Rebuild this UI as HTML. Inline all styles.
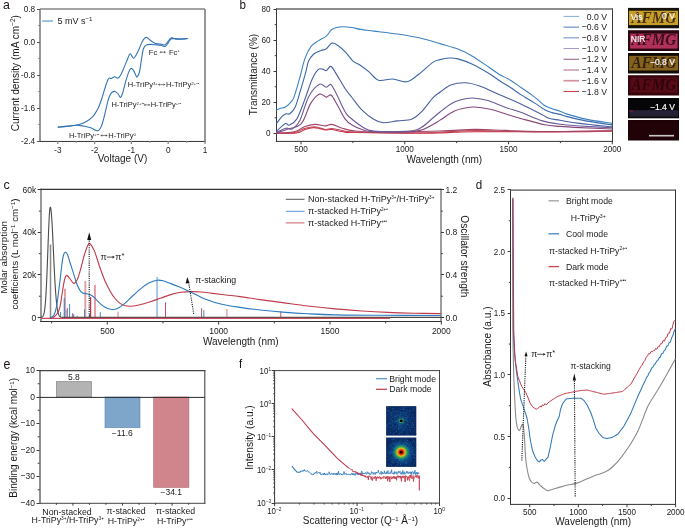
<!DOCTYPE html><html><head><meta charset="utf-8"><style>html,body{margin:0;padding:0;background:#fff;}svg{display:block;will-change:transform;}text{font-family:"Liberation Sans",sans-serif;}</style></head><body>
<svg width="685" height="528" viewBox="0 0 685 528">
<rect width="685" height="528" fill="#fff"/>
<text transform="translate(2.9,9.4) scale(1,1.1)" font-size="12.4" text-anchor="start" fill="#1e1414" >a</text>
<text transform="translate(239.4,9.4) scale(1,1.1)" font-size="11.6" text-anchor="start" fill="#1e1414" >b</text>
<text transform="translate(3.6,189.2) scale(1,1.05)" font-size="12.6" text-anchor="start" fill="#1e1414" >c</text>
<text transform="translate(475.7,188.8) scale(1,1.08)" font-size="11.6" text-anchor="start" fill="#1e1414" >d</text>
<text transform="translate(3.5,368.5) scale(1,1.12)" font-size="12.4" text-anchor="start" fill="#1e1414" >e</text>
<text transform="translate(239.1,367.9) scale(1,1.1)" font-size="11.4" text-anchor="start" fill="#1e1414" >f</text>
<g>
<line x1="40" y1="9" x2="205" y2="9" stroke="#858585" stroke-width="1.6" />
<line x1="40" y1="9" x2="40" y2="141" stroke="#858585" stroke-width="1.7" />
<line x1="205" y1="9" x2="205" y2="141" stroke="#858585" stroke-width="1.7" />
<line x1="39.2" y1="141.45" x2="205.8" y2="141.45" stroke="#333" stroke-width="1.0" />
<line x1="57.8" y1="141" x2="57.8" y2="144" stroke="#858585" stroke-width="1.3" />
<text transform="translate(57.8,152.5) scale(0.97,1.1)" font-size="8.5" text-anchor="middle" fill="#1a1a1a" >-3</text>
<line x1="94.6" y1="141" x2="94.6" y2="144" stroke="#858585" stroke-width="1.3" />
<text transform="translate(94.6,152.5) scale(0.97,1.1)" font-size="8.5" text-anchor="middle" fill="#1a1a1a" >-2</text>
<line x1="131.4" y1="141" x2="131.4" y2="144" stroke="#858585" stroke-width="1.3" />
<text transform="translate(131.4,152.5) scale(0.97,1.1)" font-size="8.5" text-anchor="middle" fill="#1a1a1a" >-1</text>
<line x1="168.2" y1="141" x2="168.2" y2="144" stroke="#858585" stroke-width="1.3" />
<text transform="translate(168.2,152.5) scale(0.97,1.1)" font-size="8.5" text-anchor="middle" fill="#1a1a1a" >0</text>
<line x1="205" y1="141" x2="205" y2="144" stroke="#858585" stroke-width="1.3" />
<text transform="translate(205,152.5) scale(0.97,1.1)" font-size="8.5" text-anchor="middle" fill="#1a1a1a" >1</text>
<line x1="76.2" y1="141" x2="76.2" y2="142.8" stroke="#858585" stroke-width="1.1" />
<line x1="113" y1="141" x2="113" y2="142.8" stroke="#858585" stroke-width="1.1" />
<line x1="149.8" y1="141" x2="149.8" y2="142.8" stroke="#858585" stroke-width="1.1" />
<line x1="186.6" y1="141" x2="186.6" y2="142.8" stroke="#858585" stroke-width="1.1" />
<line x1="37" y1="9.5" x2="40" y2="9.5" stroke="#555" stroke-width="1.0" />
<text transform="translate(35.2,11.9) scale(0.97,1.1)" font-size="8.5" text-anchor="end" fill="#1a1a1a" >0.8</text>
<line x1="37" y1="42.5" x2="40" y2="42.5" stroke="#555" stroke-width="1.0" />
<text transform="translate(35.2,44.9) scale(0.97,1.1)" font-size="8.5" text-anchor="end" fill="#1a1a1a" >0.0</text>
<line x1="37" y1="75.5" x2="40" y2="75.5" stroke="#555" stroke-width="1.0" />
<text transform="translate(35.2,77.9) scale(0.97,1.1)" font-size="8.5" text-anchor="end" fill="#1a1a1a" >-0.8</text>
<line x1="37" y1="108.5" x2="40" y2="108.5" stroke="#555" stroke-width="1.0" />
<text transform="translate(35.2,110.9) scale(0.97,1.1)" font-size="8.5" text-anchor="end" fill="#1a1a1a" >-1.6</text>
<line x1="37" y1="141.5" x2="40" y2="141.5" stroke="#555" stroke-width="1.0" />
<text transform="translate(35.2,143.9) scale(0.97,1.1)" font-size="8.5" text-anchor="end" fill="#1a1a1a" >-2.4</text>
<line x1="38.2" y1="25.5" x2="40" y2="25.5" stroke="#858585" stroke-width="1.1" />
<line x1="38.2" y1="58.5" x2="40" y2="58.5" stroke="#858585" stroke-width="1.1" />
<line x1="38.2" y1="91.5" x2="40" y2="91.5" stroke="#858585" stroke-width="1.1" />
<line x1="38.2" y1="124.5" x2="40" y2="124.5" stroke="#858585" stroke-width="1.1" />
<text x="122.5" y="161.8" font-size="10" text-anchor="middle" fill="#1a1a1a" >Voltage (V)</text>
<text transform="translate(18.7,73.2) rotate(-90)" font-size="10.1" text-anchor="middle" fill="#1a1a1a">Current density (mA cm<tspan font-size="6.5" dy="-3.5">−2</tspan><tspan dy="3.5">)</tspan></text>
<path d="M58.3,127.1 C59.58,126.98 62.9,126.75 66,126.4 C69.1,126.05 73.63,125.75 76.9,125 C80.17,124.25 82.97,123.3 85.6,121.9 C88.23,120.5 90.65,118.78 92.7,116.6 C94.75,114.42 96.43,111.65 97.9,108.8 C99.37,105.95 100.32,102.97 101.5,99.5 C102.68,96.03 103.9,91.37 105,88 C106.1,84.63 107.33,80.97 108.1,79.3 C108.87,77.63 109.05,78.15 109.6,78 C110.15,77.85 110.55,78.6 111.4,78.4 C112.25,78.2 113.63,76.83 114.7,76.8 C115.77,76.77 116.82,78.45 117.8,78.2 C118.78,77.95 119.58,77.02 120.6,75.3 C121.62,73.58 122.77,70.53 123.9,67.9 C125.03,65.27 126.35,61.85 127.4,59.5 C128.45,57.15 129.13,54.02 130.2,53.8 C131.27,53.58 132.43,58.75 133.8,58.2 C135.17,57.65 137.03,53.2 138.4,50.5 C139.77,47.8 140.98,44.03 142,42 C143.02,39.97 143.7,39.05 144.5,38.3 C145.3,37.55 145.78,37.12 146.8,37.5 C147.82,37.88 149.28,39.65 150.6,40.6 C151.92,41.55 153.38,42.63 154.7,43.2 C156.02,43.77 157.3,43.82 158.5,44 C159.7,44.18 160.92,44.13 161.9,44.3 C162.88,44.47 163.63,45.12 164.4,45 C165.17,44.88 165.73,44.43 166.5,43.6 C167.27,42.77 168.17,40.98 169,40 C169.83,39.02 170.65,37.95 171.5,37.7 C172.35,37.45 172.47,38.28 174.1,38.5 C175.73,38.72 179.08,39 181.3,39 C183.52,39 186.38,38.58 187.4,38.5" fill="none" stroke="#3474b4" stroke-width="1.1" stroke-linejoin="round" stroke-linecap="round" />
<path d="M58.3,127.1 C59.58,126.98 62.9,126.72 66,126.4 C69.1,126.08 73.9,125.23 76.9,125.2 C79.9,125.17 81.82,125.8 84,126.2 C86.18,126.6 88.08,126.93 90,127.6 C91.92,128.27 94.18,129.67 95.5,130.2 C96.82,130.73 97.07,131.17 97.9,130.8 C98.73,130.43 99.73,129.3 100.5,128 C101.27,126.7 101.92,124.75 102.5,123 C103.08,121.25 103.37,120 104,117.5 C104.63,115 105.6,110.95 106.3,108 C107,105.05 107.53,102.07 108.2,99.8 C108.87,97.53 109.58,95.7 110.3,94.4 C111.02,93.1 111.7,92.48 112.5,92 C113.3,91.52 114.15,91.17 115.1,91.5 C116.05,91.83 117.32,93.02 118.2,94 C119.08,94.98 119.68,97.48 120.4,97.4 C121.12,97.32 121.73,95.73 122.5,93.5 C123.27,91.27 124.03,87.4 125,84 C125.97,80.6 127.32,75.68 128.3,73.1 C129.28,70.52 130.03,68.97 130.9,68.5 C131.77,68.03 132.73,69.3 133.5,70.3 C134.27,71.3 134.92,73.38 135.5,74.5 C136.08,75.62 136.38,77.25 137,77 C137.62,76.75 138.62,74.83 139.2,73 C139.78,71.17 140.1,68.42 140.5,66 C140.9,63.58 141.1,61.42 141.6,58.5 C142.1,55.58 142.67,50.75 143.5,48.5 C144.33,46.25 145.42,45.68 146.6,45 C147.78,44.32 149.03,44.43 150.6,44.4 C152.17,44.37 154.33,44.65 156,44.8 C157.67,44.95 159.35,45.07 160.6,45.3 C161.85,45.53 162.68,46.03 163.5,46.2 C164.32,46.37 164.75,46.78 165.5,46.3 C166.25,45.82 167.12,44.48 168,43.3 C168.88,42.12 169.97,39.98 170.8,39.2 C171.63,38.42 172.13,38.62 173,38.6 C173.87,38.58 174.62,39.02 176,39.1 C177.38,39.18 179.4,39.2 181.3,39.1 C183.2,39 186.38,38.6 187.4,38.5" fill="none" stroke="#3474b4" stroke-width="1.1" stroke-linejoin="round" stroke-linecap="round" />
<line x1="42" y1="21" x2="53" y2="21" stroke="#7fb0da" stroke-width="1.5" />
<text x="57.4" y="24.2" font-size="9" text-anchor="start" fill="#1a1a1a" >5 mV s<tspan font-size="6.2" dy="-3.6">−1</tspan></text>
<text x="148.8" y="54.7" font-size="7.5" text-anchor="start" fill="#222" >Fc</text>
<line x1="161" y1="52.2" x2="164.3" y2="52.2" stroke="#555" stroke-width="0.7"/>
<path d="M166,52.2 L164,51.05 L164,53.35 Z" fill="#555"/>
<path d="M159.3,52.2 L161.3,51.05 L161.3,53.35 Z" fill="#555"/>
<text x="169" y="54.7" font-size="7.5" text-anchor="start" fill="#222" >Fc<tspan font-size="4.3" dy="-2.4">+</tspan></text>
<text x="127.8" y="87.1" font-size="7.5" text-anchor="start" fill="#222" >H-TriPy<tspan font-size="4.3" dy="-2.4">3+</tspan></text>
<line x1="159.6" y1="84.6" x2="163.8" y2="84.6" stroke="#555" stroke-width="0.7"/>
<path d="M165.5,84.6 L163.5,83.45 L163.5,85.75 Z" fill="#555"/>
<path d="M157.9,84.6 L159.9,83.45 L159.9,85.75 Z" fill="#555"/>
<text x="166.1" y="87.1" font-size="7.5" text-anchor="start" fill="#222" >H-TriPy<tspan font-size="4.3" dy="-2.4">2+••</tspan></text>
<text x="111.4" y="107.4" font-size="7.5" text-anchor="start" fill="#222" >H-TriPy<tspan font-size="4.3" dy="-2.4">2+••</tspan></text>
<line x1="145.1" y1="104.9" x2="148.8" y2="104.9" stroke="#555" stroke-width="0.7"/>
<path d="M150.5,104.9 L148.5,103.75 L148.5,106.05 Z" fill="#555"/>
<path d="M143.4,104.9 L145.4,103.75 L145.4,106.05 Z" fill="#555"/>
<text x="150.7" y="107.4" font-size="7.5" text-anchor="start" fill="#222" >H-TriPy<tspan font-size="4.3" dy="-2.4">+••</tspan></text>
<text x="68.9" y="138" font-size="7.5" text-anchor="start" fill="#222" >H-TriPy<tspan font-size="4.3" dy="-2.4">+••</tspan></text>
<line x1="102.1" y1="135.5" x2="106" y2="135.5" stroke="#555" stroke-width="0.7"/>
<path d="M107.7,135.5 L105.7,134.35 L105.7,136.65 Z" fill="#555"/>
<path d="M100.4,135.5 L102.4,134.35 L102.4,136.65 Z" fill="#555"/>
<text x="108.3" y="138" font-size="7.5" text-anchor="start" fill="#222" >H-TriPy<tspan font-size="4.3" dy="-2.4">0</tspan></text>
</g>
<line x1="276.5" y1="8.15" x2="276.5" y2="141.9" stroke="#3a3a3a" stroke-width="1.05"/>
<line x1="612.5" y1="8.15" x2="612.5" y2="141.9" stroke="#3a3a3a" stroke-width="1.0"/>
<line x1="275.98" y1="8.9" x2="613" y2="8.9" stroke="#666" stroke-width="1.5"/>
<line x1="275.98" y1="141.4" x2="613" y2="141.4" stroke="#333" stroke-width="1.0"/>
<line x1="301" y1="141.3" x2="301" y2="144.3" stroke="#3a3a3a" stroke-width="1" />
<text transform="translate(301,152.2) scale(0.96,1.07)" font-size="8.5" text-anchor="middle" fill="#1a1a1a" >500</text>
<line x1="404.76" y1="141.3" x2="404.76" y2="144.3" stroke="#3a3a3a" stroke-width="1" />
<text transform="translate(404.76,152.2) scale(0.96,1.07)" font-size="8.5" text-anchor="middle" fill="#1a1a1a" >1000</text>
<line x1="508.53" y1="141.3" x2="508.53" y2="144.3" stroke="#3a3a3a" stroke-width="1" />
<text transform="translate(508.53,152.2) scale(0.96,1.07)" font-size="8.5" text-anchor="middle" fill="#1a1a1a" >1500</text>
<line x1="612.3" y1="141.3" x2="612.3" y2="144.3" stroke="#3a3a3a" stroke-width="1" />
<text transform="translate(612.3,152.2) scale(0.96,1.07)" font-size="8.5" text-anchor="middle" fill="#1a1a1a" >2000</text>
<line x1="352.88" y1="141.3" x2="352.88" y2="143.1" stroke="#3a3a3a" stroke-width="1" />
<line x1="456.65" y1="141.3" x2="456.65" y2="143.1" stroke="#3a3a3a" stroke-width="1" />
<line x1="560.41" y1="141.3" x2="560.41" y2="143.1" stroke="#3a3a3a" stroke-width="1" />
<line x1="273.5" y1="133.5" x2="276.5" y2="133.5" stroke="#3a3a3a" stroke-width="1" />
<text transform="translate(270.5,136.1) scale(0.96,1.07)" font-size="8.5" text-anchor="end" fill="#1a1a1a" >0</text>
<line x1="273.5" y1="102.5" x2="276.5" y2="102.5" stroke="#3a3a3a" stroke-width="1" />
<text transform="translate(270.5,105.05) scale(0.96,1.07)" font-size="8.5" text-anchor="end" fill="#1a1a1a" >20</text>
<line x1="273.5" y1="71.5" x2="276.5" y2="71.5" stroke="#3a3a3a" stroke-width="1" />
<text transform="translate(270.5,74) scale(0.96,1.07)" font-size="8.5" text-anchor="end" fill="#1a1a1a" >40</text>
<line x1="273.5" y1="40.5" x2="276.5" y2="40.5" stroke="#3a3a3a" stroke-width="1" />
<text transform="translate(270.5,42.95) scale(0.96,1.07)" font-size="8.5" text-anchor="end" fill="#1a1a1a" >60</text>
<line x1="273.5" y1="9.5" x2="276.5" y2="9.5" stroke="#3a3a3a" stroke-width="1" />
<text transform="translate(270.5,11.9) scale(0.96,1.07)" font-size="8.5" text-anchor="end" fill="#1a1a1a" >80</text>
<line x1="274.7" y1="117.78" x2="276.5" y2="117.78" stroke="#3a3a3a" stroke-width="1" />
<line x1="274.7" y1="86.73" x2="276.5" y2="86.73" stroke="#3a3a3a" stroke-width="1" />
<line x1="274.7" y1="55.68" x2="276.5" y2="55.68" stroke="#3a3a3a" stroke-width="1" />
<line x1="274.7" y1="24.63" x2="276.5" y2="24.63" stroke="#3a3a3a" stroke-width="1" />
<text x="444.3" y="163.1" font-size="10" text-anchor="middle" fill="#1a1a1a" >Wavelength (nm)</text>
<text transform="translate(257.2,74.5) rotate(-90)" font-size="10" text-anchor="middle" fill="#1a1a1a">Transmittance (%)</text>
<path d="M276.5,133.5 C279.87,133.42 291.95,133.67 296.7,133 C301.45,132.33 302.22,130.4 305,129.5 C307.78,128.6 310.9,127.75 313.4,127.6 C315.9,127.45 317.98,128.2 320,128.6 C322.02,129 323.57,129.85 325.5,130 C327.43,130.15 328.82,129.25 331.6,129.5 C334.38,129.75 338.47,131 342.2,131.5 C345.93,132 341.03,132.2 354,132.5 C366.97,132.8 399.83,133.42 420,133.3 C440.17,133.18 452.53,132.08 475,131.8 C497.47,131.52 531.97,131.73 554.8,131.6 C577.63,131.47 602.47,131.1 612,131" fill="none" stroke="#c9303f" stroke-width="1.1" stroke-linejoin="round" stroke-linecap="round" />
<path d="M276.5,133.3 C278.75,133.25 286.63,133.22 290,133 C293.37,132.78 294.32,132.75 296.7,132 C299.08,131.25 301.27,129.38 304.3,128.5 C307.33,127.62 311.37,126.53 314.9,126.7 C318.43,126.87 322.72,129.2 325.5,129.5 C328.28,129.8 328.82,128.33 331.6,128.5 C334.38,128.67 338.47,129.92 342.2,130.5 C345.93,131.08 341.03,131.62 354,132 C366.97,132.38 399.83,133.03 420,132.8 C440.17,132.57 455,130.73 475,130.6 C495,130.47 517.17,131.9 540,132 C562.83,132.1 600,131.33 612,131.2" fill="none" stroke="#c2495c" stroke-width="1.1" stroke-linejoin="round" stroke-linecap="round" />
<path d="M276.5,133 C278.75,132.88 286.63,132.63 290,132.3 C293.37,131.97 294.32,131.93 296.7,131 C299.08,130.07 301.27,127.8 304.3,126.7 C307.33,125.6 311.37,124.53 314.9,124.4 C318.43,124.27 322.72,125.9 325.5,125.9 C328.28,125.9 328.82,124.02 331.6,124.4 C334.38,124.78 338.47,127.12 342.2,128.2 C345.93,129.28 347.7,130.22 354,130.9 C360.3,131.58 365.67,132.28 380,132.3 C394.33,132.32 424.17,131.48 440,131 C455.83,130.52 464.17,129.5 475,129.4 C485.83,129.3 494.17,130.05 505,130.4 C515.83,130.75 522.17,131.43 540,131.5 C557.83,131.57 600,130.92 612,130.8" fill="none" stroke="#a2456a" stroke-width="1.1" stroke-linejoin="round" stroke-linecap="round" />
<path d="M276.5,132.6 C278.1,132.12 281.97,131.2 286.1,129.7 C290.23,128.2 297.25,127.9 301.3,123.6 C305.35,119.3 307.37,108.82 310.4,103.9 C313.43,98.98 316.85,95.23 319.5,94.1 C322.15,92.97 324.33,96.92 326.3,97.1 C328.27,97.28 329.42,93.8 331.3,95.2 C333.18,96.6 335.28,101.52 337.6,105.5 C339.92,109.48 342.8,115.85 345.2,119.1 C347.6,122.35 349.2,123.27 352,125 C354.8,126.73 358.38,128.4 362,129.5 C365.62,130.6 364.63,131.33 373.7,131.6 C382.77,131.87 406.53,132.28 416.4,131.1 C426.27,129.92 428.97,126.33 432.9,124.5 C436.83,122.67 436.42,122.33 440,120.1 C443.58,117.87 450.4,113.08 454.4,111.1 C458.4,109.12 460.7,108.88 464,108.2 C467.3,107.52 469.8,106.82 474.2,107 C478.6,107.18 485.27,108.17 490.4,109.3 C495.53,110.43 499.93,112.27 505,113.8 C510.07,115.33 514.17,116.67 520.8,118.5 C527.43,120.33 538.27,123.48 544.8,124.8 C551.33,126.12 554.13,125.93 560,126.4 C565.87,126.87 571.33,127.17 580,127.6 C588.67,128.03 606.67,128.77 612,129" fill="none" stroke="#86487a" stroke-width="1.1" stroke-linejoin="round" stroke-linecap="round" />
<path d="M276.5,132.3 C278.1,131.62 283.48,128.75 286.1,128.2 C288.72,127.65 289.92,130.27 292.2,129 C294.48,127.73 297.03,126.03 299.8,120.6 C302.57,115.17 305.52,102.47 308.8,96.4 C312.08,90.33 316.58,85.72 319.5,84.2 C322.42,82.68 324.42,87.25 326.3,87.3 C328.18,87.35 329.17,83.5 330.8,84.5 C332.43,85.5 333.7,88.72 336.1,93.3 C338.5,97.88 342.88,107.97 345.2,112 C347.52,116.03 347.23,115.1 350,117.5 C352.77,119.9 357.85,124.13 361.8,126.4 C365.75,128.67 365.8,130.32 373.7,131.1 C381.6,131.88 401.3,131.68 409.2,131.1 C417.1,130.52 417.15,129.78 421.1,127.6 C425.05,125.42 429.75,120.6 432.9,118 C436.05,115.4 437.02,114.35 440,112 C442.98,109.65 447.3,105.93 450.8,103.9 C454.3,101.87 457.4,100.78 461,99.8 C464.6,98.82 468.1,97.92 472.4,98 C476.7,98.08 481.37,98.77 486.8,100.3 C492.23,101.83 499.33,105.2 505,107.2 C510.67,109.2 514.68,110.07 520.8,112.3 C526.92,114.53 535.17,118.6 541.7,120.6 C548.23,122.6 553.62,123.4 560,124.3 C566.38,125.2 571.33,125.42 580,126 C588.67,126.58 606.67,127.5 612,127.8" fill="none" stroke="#6b5a98" stroke-width="1.1" stroke-linejoin="round" stroke-linecap="round" />
<path d="M276.5,131.2 C277.98,129.93 283.28,124.6 285.4,123.6 C287.52,122.6 287.32,125.95 289.2,125.2 C291.08,124.45 294.18,123.15 296.7,119.1 C299.22,115.05 301.77,107.47 304.3,100.9 C306.83,94.33 309.63,84.88 311.9,79.7 C314.17,74.52 316.13,71.57 317.9,69.8 C319.67,68.03 321.1,68.97 322.5,69.1 C323.9,69.23 324.92,71.05 326.3,70.6 C327.68,70.15 329.17,65.9 330.8,66.4 C332.43,66.9 333.7,69.87 336.1,73.6 C338.5,77.33 342.55,84.82 345.2,88.8 C347.85,92.78 349.23,94 352,97.5 C354.77,101 358.18,106.17 361.8,109.8 C365.42,113.43 370.13,117.13 373.7,119.3 C377.27,121.47 379.25,122.53 383.2,122.8 C387.15,123.07 392.67,121.48 397.4,120.9 C402.13,120.32 407.65,120.75 411.6,119.3 C415.55,117.85 417.55,115.77 421.1,112.2 C424.65,108.63 429.75,101.23 432.9,97.9 C436.05,94.57 437.02,94.35 440,92.2 C442.98,90.05 446.6,86.58 450.8,85 C455,83.42 460.4,82.55 465.2,82.7 C470,82.85 474.8,84.32 479.6,85.9 C484.4,87.48 489.77,90.35 494,92.2 C498.23,94.05 500.53,95.03 505,97 C509.47,98.97 514.68,101.1 520.8,104 C526.92,106.9 537,112.02 541.7,114.4 C546.4,116.78 545.95,117.32 549,118.3 C552.05,119.28 554.9,119.45 560,120.3 C565.1,121.15 570.93,122.3 579.6,123.4 C588.27,124.5 606.6,126.32 612,126.9" fill="none" stroke="#4a5fa0" stroke-width="1.1" stroke-linejoin="round" stroke-linecap="round" />
<path d="M276.5,123.6 C277.35,122.47 280,118.43 281.6,116.8 C283.2,115.17 284.72,114.3 286.1,113.8 C287.48,113.3 288.38,114.93 289.9,113.8 C291.42,112.67 293.43,110.92 295.2,107 C296.97,103.08 298.73,96.12 300.5,90.3 C302.27,84.48 304.47,76.93 305.8,72.1 C307.13,67.27 307.17,64.32 308.5,61.3 C309.83,58.28 311.7,55.82 313.8,54 C315.9,52.18 319.03,51.25 321.1,50.4 C323.17,49.55 324.38,50.12 326.2,48.9 C328.02,47.68 329.93,43.58 332,43.1 C334.07,42.62 336.28,44.42 338.6,46 C340.92,47.58 343.47,50.05 345.9,52.6 C348.33,55.15 350.93,59.27 353.2,61.3 C355.47,63.33 356.87,63.03 359.5,64.8 C362.13,66.57 365.85,69.33 369,71.9 C372.15,74.47 374.45,79.02 378.4,80.2 C382.35,81.38 387.95,78.73 392.7,79 C397.45,79.27 402.57,82.6 406.9,81.8 C411.23,81 414.37,77.43 418.7,74.2 C423.03,70.97 429.35,64.83 432.9,62.4 C436.45,59.97 437.32,60.33 440,59.6 C442.68,58.87 446,58.12 449,58 C452,57.88 454.1,57.85 458,58.9 C461.9,59.95 467.3,61.9 472.4,64.3 C477.5,66.7 484,70.52 488.6,73.3 C493.2,76.08 496.35,78.63 500,81 C503.65,83.37 507.03,85.23 510.5,87.5 C513.97,89.77 516.82,92.03 520.8,94.6 C524.78,97.17 530.4,100.38 534.4,102.9 C538.4,105.42 541.87,108.08 544.8,109.7 C547.73,111.32 549.47,111.82 552,112.6 C554.53,113.38 557.47,113.73 560,114.4 C562.53,115.07 562.9,115.52 567.2,116.6 C571.5,117.68 578.33,119.52 585.8,120.9 C593.27,122.28 607.63,124.23 612,124.9" fill="none" stroke="#3b67ab" stroke-width="1.1" stroke-linejoin="round" stroke-linecap="round" />
<path d="M276.5,110 C277.08,109.75 278.52,109 280,108.5 C281.48,108 283.62,108.02 285.4,107 C287.18,105.98 289.32,103.92 290.7,102.4 C292.08,100.88 292.57,100.67 293.7,97.9 C294.83,95.13 296.37,89.62 297.5,85.8 C298.63,81.98 299.25,79.57 300.5,75 C301.75,70.43 303.27,63.12 305,58.4 C306.73,53.68 308.7,49.62 310.9,46.7 C313.1,43.78 315.65,42.65 318.2,40.9 C320.75,39.15 324.02,38.03 326.2,36.2 C328.38,34.37 329.72,31.32 331.3,29.9 C332.88,28.48 333.75,28.23 335.7,27.7 C337.65,27.17 340.32,26.73 343,26.7 C345.68,26.67 348.88,27.05 351.8,27.5 C354.72,27.95 356.85,28.8 360.5,29.4 C364.15,30 367.55,30.33 373.7,31.1 C379.85,31.87 389.5,32.82 397.4,34 C405.3,35.18 414,36.6 421.1,38.2 C428.2,39.8 433.85,41.8 440,43.6 C446.15,45.4 452.6,46.9 458,49 C463.4,51.1 467.3,53.2 472.4,56.2 C477.5,59.2 484.17,64 488.6,67 C493.03,70 495.28,71.95 499,74.2 C502.72,76.45 507.23,78.28 510.9,80.5 C514.57,82.72 517.61,85.15 521,87.5 C524.39,89.85 528.42,92.55 531.25,94.6 C534.08,96.65 535.92,98.07 538,99.8 C540.08,101.53 541.75,103.62 543.75,105 C545.75,106.38 547.29,107.06 550,108.1 C552.71,109.14 557.13,110.25 560,111.25 C562.87,112.25 562.9,112.79 567.2,114.1 C571.5,115.41 578.35,117.55 585.8,119.1 C593.25,120.65 607.55,122.68 611.9,123.4" fill="none" stroke="#3d83c3" stroke-width="1.1" stroke-linejoin="round" stroke-linecap="round" />
<line x1="563.5" y1="16.4" x2="579" y2="16.4" stroke="#7fb0dc" stroke-width="1.0" />
<text transform="translate(607,19.5) scale(1,1.1)" font-size="8.7" text-anchor="end" fill="#1a1a1a" >0.0 V</text>
<line x1="563.5" y1="27.12" x2="579" y2="27.12" stroke="#4d79b8" stroke-width="1.0" />
<text transform="translate(607,30.22) scale(1,1.1)" font-size="8.7" text-anchor="end" fill="#1a1a1a" >−0.6 V</text>
<line x1="563.5" y1="37.84" x2="579" y2="37.84" stroke="#6f88bd" stroke-width="1.0" />
<text transform="translate(607,40.94) scale(1,1.1)" font-size="8.7" text-anchor="end" fill="#1a1a1a" >−0.8 V</text>
<line x1="563.5" y1="48.56" x2="579" y2="48.56" stroke="#a596c8" stroke-width="1.0" />
<text transform="translate(607,51.66) scale(1,1.1)" font-size="8.7" text-anchor="end" fill="#1a1a1a" >−1.0 V</text>
<line x1="563.5" y1="59.28" x2="579" y2="59.28" stroke="#8c5a84" stroke-width="1.0" />
<text transform="translate(607,62.38) scale(1,1.1)" font-size="8.7" text-anchor="end" fill="#1a1a1a" >−1.2 V</text>
<line x1="563.5" y1="70" x2="579" y2="70" stroke="#b0657e" stroke-width="1.0" />
<text transform="translate(607,73.1) scale(1,1.1)" font-size="8.7" text-anchor="end" fill="#1a1a1a" >−1.4 V</text>
<line x1="563.5" y1="80.72" x2="579" y2="80.72" stroke="#d8909c" stroke-width="1.7" />
<text transform="translate(607,83.82) scale(1,1.1)" font-size="8.7" text-anchor="end" fill="#1a1a1a" >−1.6 V</text>
<line x1="563.5" y1="91.44" x2="579" y2="91.44" stroke="#c8343f" stroke-width="1.0" />
<text transform="translate(607,94.54) scale(1,1.1)" font-size="8.7" text-anchor="end" fill="#1a1a1a" >−1.8 V</text>
<defs><linearGradient id="g1" x1="0" y1="0" x2="1" y2="0"><stop offset="0" stop-color="#c89e2c"/><stop offset="1" stop-color="#c59a2a"/></linearGradient></defs>
<rect x="628" y="7.9" width="51" height="20.4" fill="#14100c"/>
<rect x="628.9" y="10.7" width="49.2" height="14.4" fill="#c89e2a"/>
<text x="653.9" y="23" style="font-family:Liberation Serif,serif;font-style:italic;font-weight:bold" font-size="16" text-anchor="middle" fill="#2a1a10" fill-opacity="0.82" textLength="45" lengthAdjust="spacingAndGlyphs">AFMG</text>
<text x="630.8" y="19.6" font-size="8.5" text-anchor="start" fill="#ffffff" stroke="#fff" stroke-width="0.15">Vis</text>
<text x="675" y="19.4" font-size="8.6" text-anchor="end" fill="#ffffff" stroke="#fff" stroke-width="0.15">0 V</text>
<rect x="628" y="30.2" width="51" height="20.8" fill="#2a0610"/>
<rect x="630.1" y="33.6" width="47.5" height="15" fill="#b0325a"/>
<text x="653.9" y="45.3" style="font-family:Liberation Serif,serif;font-style:italic;font-weight:bold" font-size="16" text-anchor="middle" fill="#2a0612" fill-opacity="0.85" textLength="45" lengthAdjust="spacingAndGlyphs">AFMG</text>
<text x="630.8" y="41.9" font-size="8.5" text-anchor="start" fill="#ffffff" stroke="#fff" stroke-width="0.15">NIR</text>
<rect x="628" y="53" width="51" height="20.5" fill="#120c06"/>
<rect x="629.1" y="55.9" width="49.1" height="14.6" fill="#86621f"/>
<text x="653.9" y="68" style="font-family:Liberation Serif,serif;font-style:italic;font-weight:bold" font-size="16" text-anchor="middle" fill="#20140a" fill-opacity="0.8" textLength="45" lengthAdjust="spacingAndGlyphs">AFMG</text>
<text x="675" y="64.5" font-size="8.6" text-anchor="end" fill="#ffffff" stroke="#fff" stroke-width="0.15">−0.8 V</text>
<rect x="628" y="75.2" width="51" height="20.3" fill="#36040b"/>
<rect x="630.5" y="77.7" width="46.8" height="15" fill="#560a16"/>
<text x="653.9" y="90" style="font-family:Liberation Serif,serif;font-style:italic;font-weight:bold" font-size="16" text-anchor="middle" fill="#24040a" fill-opacity="0.8" textLength="45" lengthAdjust="spacingAndGlyphs">AFMG</text>
<rect x="628" y="98" width="51" height="20.3" fill="#050507"/>
<rect x="628.9" y="99.5" width="49.2" height="17" fill="#060608"/>
<text x="675" y="109.5" font-size="8.6" text-anchor="end" fill="#ffffff" stroke="#fff" stroke-width="0.15">−1.4 V</text>
<rect x="628" y="120" width="51" height="20.5" fill="#1c0206"/>
<rect x="628.9" y="121.5" width="49.2" height="17.5" fill="#210307"/>
<rect x="629.3" y="110.2" width="49" height="5.2" fill="#262036"/>
<rect x="629.3" y="115.6" width="49" height="0.8" fill="#3c3c44"/>
<rect x="629.5" y="110.2" width="3.5" height="1.6" fill="#6a2030"/>
<line x1="649" y1="135.7" x2="674" y2="135.7" stroke="#c8c8c8" stroke-width="1.6" />
<line x1="41" y1="188.85" x2="41" y2="322" stroke="#888" stroke-width="1.7"/>
<line x1="441" y1="188.85" x2="441" y2="322" stroke="#3a3a3a" stroke-width="1.0"/>
<line x1="40.15" y1="189.4" x2="441.5" y2="189.4" stroke="#333" stroke-width="1.1"/>
<line x1="40.15" y1="321.5" x2="441.5" y2="321.5" stroke="#333" stroke-width="1.0"/>
<line x1="107.3" y1="321.6" x2="107.3" y2="324.6" stroke="#3a3a3a" stroke-width="1" />
<text x="107.3" y="333.6" font-size="8.5" text-anchor="middle" fill="#1a1a1a" >500</text>
<line x1="218.65" y1="321.6" x2="218.65" y2="324.6" stroke="#3a3a3a" stroke-width="1" />
<text x="218.65" y="333.6" font-size="8.5" text-anchor="middle" fill="#1a1a1a" >1000</text>
<line x1="330" y1="321.6" x2="330" y2="324.6" stroke="#3a3a3a" stroke-width="1" />
<text x="330" y="333.6" font-size="8.5" text-anchor="middle" fill="#1a1a1a" >1500</text>
<line x1="441.35" y1="321.6" x2="441.35" y2="324.6" stroke="#3a3a3a" stroke-width="1" />
<text x="441.35" y="333.6" font-size="8.5" text-anchor="middle" fill="#1a1a1a" >2000</text>
<line x1="51.62" y1="321.6" x2="51.62" y2="323.4" stroke="#3a3a3a" stroke-width="1" />
<line x1="162.97" y1="321.6" x2="162.97" y2="323.4" stroke="#3a3a3a" stroke-width="1" />
<line x1="274.32" y1="321.6" x2="274.32" y2="323.4" stroke="#3a3a3a" stroke-width="1" />
<line x1="385.68" y1="321.6" x2="385.68" y2="323.4" stroke="#3a3a3a" stroke-width="1" />
<line x1="37.7" y1="317.5" x2="40.7" y2="317.5" stroke="#3a3a3a" stroke-width="1" />
<text x="36.2" y="320.5" font-size="8.5" text-anchor="end" fill="#1a1a1a" >0</text>
<line x1="37.7" y1="274.5" x2="40.7" y2="274.5" stroke="#3a3a3a" stroke-width="1" />
<text x="36.2" y="277.94" font-size="8.5" text-anchor="end" fill="#1a1a1a" >20k</text>
<line x1="37.7" y1="232.5" x2="40.7" y2="232.5" stroke="#3a3a3a" stroke-width="1" />
<text x="36.2" y="235.38" font-size="8.5" text-anchor="end" fill="#1a1a1a" >40k</text>
<line x1="37.7" y1="189.5" x2="40.7" y2="189.5" stroke="#3a3a3a" stroke-width="1" />
<text x="36.2" y="192.82" font-size="8.5" text-anchor="end" fill="#1a1a1a" >60k</text>
<line x1="38.9" y1="296.22" x2="40.7" y2="296.22" stroke="#3a3a3a" stroke-width="1" />
<line x1="38.9" y1="253.66" x2="40.7" y2="253.66" stroke="#3a3a3a" stroke-width="1" />
<line x1="38.9" y1="211.1" x2="40.7" y2="211.1" stroke="#3a3a3a" stroke-width="1" />
<line x1="441" y1="317.5" x2="444" y2="317.5" stroke="#3a3a3a" stroke-width="1" />
<text x="445.5" y="320.5" font-size="8.5" text-anchor="start" fill="#1a1a1a" >0.0</text>
<line x1="441" y1="274.5" x2="444" y2="274.5" stroke="#3a3a3a" stroke-width="1" />
<text x="445.5" y="277.94" font-size="8.5" text-anchor="start" fill="#1a1a1a" >0.4</text>
<line x1="441" y1="232.5" x2="444" y2="232.5" stroke="#3a3a3a" stroke-width="1" />
<text x="445.5" y="235.38" font-size="8.5" text-anchor="start" fill="#1a1a1a" >0.8</text>
<line x1="441" y1="189.5" x2="444" y2="189.5" stroke="#3a3a3a" stroke-width="1" />
<text x="445.5" y="192.82" font-size="8.5" text-anchor="start" fill="#1a1a1a" >1.2</text>
<line x1="441" y1="296.22" x2="442.8" y2="296.22" stroke="#3a3a3a" stroke-width="1" />
<line x1="441" y1="253.66" x2="442.8" y2="253.66" stroke="#3a3a3a" stroke-width="1" />
<line x1="441" y1="211.1" x2="442.8" y2="211.1" stroke="#3a3a3a" stroke-width="1" />
<text x="240.8" y="345.1" font-size="10" text-anchor="middle" fill="#1a1a1a" >Wavelength (nm)</text>
<text transform="translate(7.3,257.3) rotate(-90)" font-size="9.75" text-anchor="middle" fill="#1a1a1a">Molar absorption</text>
<text transform="translate(18.1,254) rotate(-90)" font-size="9.75" text-anchor="middle" fill="#1a1a1a">coefficients (L mol<tspan font-size="6.2" dy="-3.4">−1</tspan><tspan dy="3.4"> cm</tspan><tspan font-size="6.2" dy="-3.4">−1</tspan><tspan dy="3.4">)</tspan></text>
<text transform="translate(461.3,256.3) rotate(90)" font-size="10.2" text-anchor="middle" fill="#1a1a1a">Oscillator strength</text>
<line x1="50.5" y1="317.4" x2="50.5" y2="244.5" stroke="#8a8a8a" stroke-width="1.5" />
<line x1="65" y1="317.4" x2="65" y2="288.8" stroke="#e3a2aa" stroke-width="2" />
<line x1="85.3" y1="317.4" x2="85.3" y2="280.9" stroke="#e3a2aa" stroke-width="2" />
<line x1="95" y1="317.4" x2="95" y2="284.8" stroke="#e3a2aa" stroke-width="2" />
<line x1="118.1" y1="317.4" x2="118.1" y2="311.7" stroke="#e3a2aa" stroke-width="1.4" />
<line x1="226.9" y1="317.4" x2="226.9" y2="309.1" stroke="#e3a2aa" stroke-width="1.4" />
<line x1="67.3" y1="317.4" x2="67.3" y2="308" stroke="#c8505e" stroke-width="1" />
<line x1="73.7" y1="317.4" x2="73.7" y2="314.2" stroke="#c8505e" stroke-width="1" />
<line x1="90.6" y1="317.4" x2="90.6" y2="297.1" stroke="#c03848" stroke-width="1.2" />
<line x1="165.5" y1="317.4" x2="165.5" y2="302.4" stroke="#c8505e" stroke-width="1" />
<line x1="201.6" y1="317.4" x2="201.6" y2="308.2" stroke="#c8505e" stroke-width="1" />
<line x1="280.8" y1="317.4" x2="280.8" y2="311.4" stroke="#c8505e" stroke-width="1" />
<line x1="157.1" y1="317.4" x2="157.1" y2="277" stroke="#a6c6e6" stroke-width="2" />
<line x1="60.6" y1="317.4" x2="60.6" y2="312" stroke="#4a88c4" stroke-width="1" />
<line x1="64.3" y1="317.4" x2="64.3" y2="298" stroke="#4a88c4" stroke-width="1.2" />
<line x1="66.1" y1="317.4" x2="66.1" y2="309.8" stroke="#8ab0d8" stroke-width="1.4" />
<line x1="69.6" y1="317.4" x2="69.6" y2="304.1" stroke="#4a88c4" stroke-width="1" />
<line x1="72.4" y1="317.4" x2="72.4" y2="313.1" stroke="#4a88c4" stroke-width="1" />
<line x1="77.2" y1="317.4" x2="77.2" y2="315.9" stroke="#4a88c4" stroke-width="1" />
<line x1="84.5" y1="317.4" x2="84.5" y2="309.3" stroke="#4a88c4" stroke-width="1" />
<line x1="89.5" y1="317.4" x2="89.5" y2="314.2" stroke="#4a88c4" stroke-width="1" />
<line x1="100.3" y1="317.4" x2="100.3" y2="312.1" stroke="#4a88c4" stroke-width="1" />
<line x1="203.8" y1="317.4" x2="203.8" y2="310.1" stroke="#4a88c4" stroke-width="1" />
<path d="M41.1,317.4 L40.9,317.33 L41.15,317.3 L41.4,317.25 L41.65,317.18 L41.9,317.09 L42.15,316.96 L42.4,316.79 L42.65,316.56 L42.9,316.25 L43.15,315.84 L43.4,315.31 L43.65,314.63 L43.9,313.76 L44.15,312.68 L44.4,311.33 L44.65,309.68 L44.9,307.68 L45.15,305.29 L45.4,302.47 L45.65,299.19 L45.9,295.41 L46.15,291.13 L46.4,286.33 L46.65,281.04 L46.9,275.29 L47.15,269.14 L47.4,262.66 L47.65,255.95 L47.9,249.13 L48.15,242.35 L48.4,235.75 L48.65,229.48 L48.9,223.71 L49.15,218.61 L49.4,214.3 L49.65,210.91 L49.9,208.56 L50.15,207.31 L50.4,207.16 L50.65,207.8 L50.9,209.15 L51.15,211.17 L51.4,213.83 L51.65,217.08 L51.9,220.85 L52.15,225.09 L52.4,229.71 L52.65,234.65 L52.9,239.81 L53.15,245.12 L53.4,250.5 L53.65,255.88 L53.9,261.2 L54.15,266.39 L54.4,271.4 L54.65,276.19 L54.9,280.72 L55.15,284.96 L55.4,288.9 L55.65,292.52 L55.9,295.82 L56.15,298.81 L56.4,301.49 L56.65,303.87 L56.9,305.96 L57.15,307.8 L57.4,309.39 L57.65,310.76 L57.9,311.94 L58.15,312.93 L58.4,313.77 L58.65,314.47 L58.9,315.05 L59.15,315.53 L59.4,315.92 L59.65,316.23 L59.9,316.49 L60.15,316.69 L60.4,316.85 L60.65,316.98 L60.9,317.08 L61.15,317.16 L61.4,317.22 L61.65,317.26 L61.9,317.3 L62.15,317.33 L62.4,317.35 L62.65,317.36 L62.9,317.37 L63.15,317.38 L63.4,317.39 L63.65,317.39 L63.9,317.39 L64.15,317.39 L64.4,317.4 L64.65,317.4 L64.9,317.4 L65.15,317.4 L65.4,317.4 L65.65,317.4 L65.9,317.4 L66.15,317.4 L66.4,317.4 L66.65,317.4 L66.9,317.4 L67.15,317.4 L67.4,317.4 L67.65,317.4 L67.9,317.4 L68.15,317.4 L68.4,317.4 L68.65,317.4 L68.9,317.4 L69.15,317.4 L69.4,317.4 L69.65,317.4 L69.9,317.4 L70.15,317.4 L70.4,317.4 L70.65,317.4 L440.5,317.4" fill="none" stroke="#4a4a4a" stroke-width="1.1" stroke-linejoin="round" stroke-linecap="round" />
<line x1="41.2" y1="318.4" x2="390" y2="318.4" stroke="#c8505e" stroke-width="1.2" />
<path d="M50,318 C50.52,317.93 51.85,318.38 53.1,317.6 C54.35,316.82 56.33,315.18 57.5,313.3 C58.67,311.42 59.25,310.1 60.1,306.3 C60.95,302.5 61.85,294.97 62.6,290.5 C63.35,286.03 63.93,282.02 64.6,279.5 C65.27,276.98 65.73,275.57 66.6,275.4 C67.47,275.23 68.62,277.17 69.8,278.5 C70.98,279.83 72.45,283.23 73.7,283.4 C74.95,283.57 76.12,281.98 77.3,279.5 C78.48,277.02 79.6,272.67 80.8,268.5 C82,264.33 83.15,258.62 84.5,254.5 C85.85,250.38 87.4,244.72 88.9,243.8 C90.4,242.88 92.15,246.55 93.5,249 C94.85,251.45 95.92,255.37 97,258.5 C98.08,261.63 98.67,264.05 100,267.8 C101.33,271.55 103.3,277.08 105,281 C106.7,284.92 108.53,288.38 110.2,291.3 C111.87,294.22 113.3,296.45 115,298.5 C116.7,300.55 118.65,302.38 120.4,303.6 C122.15,304.82 123.78,305.37 125.5,305.8 C127.22,306.23 128.28,306.37 130.7,306.2 C133.12,306.03 136.6,305.58 140,304.8 C143.4,304.02 147.6,302.63 151.1,301.5 C154.6,300.37 157.6,299.18 161,298 C164.4,296.82 168.17,295.35 171.5,294.4 C174.83,293.45 177.58,292.77 181,292.3 C184.42,291.83 188.62,291.65 192,291.6 C195.38,291.55 197.9,291.7 201.3,292 C204.7,292.3 208.28,292.9 212.4,293.4 C216.52,293.9 221.4,294.47 226,295 C230.6,295.53 234.33,295.83 240,296.6 C245.67,297.37 252.9,298.6 260,299.6 C267.1,300.6 274.6,301.53 282.6,302.6 C290.6,303.67 299.25,304.95 308,306 C316.75,307.05 326.1,308.07 335.1,308.9 C344.1,309.73 353.23,310.42 362,311 C370.77,311.58 379.03,312.03 387.7,312.4 C396.37,312.77 405.2,313 414,313.2 C422.8,313.4 436.08,313.53 440.5,313.6" fill="none" stroke="#c03a4a" stroke-width="1.12" stroke-linejoin="round" stroke-linecap="round" />
<path d="M50.5,317.7 C51.08,317.25 52.98,316.9 54,315 C55.02,313.1 55.87,309.95 56.6,306.3 C57.33,302.65 57.82,297.48 58.4,293.1 C58.98,288.72 59.53,284.68 60.1,280 C60.67,275.32 61.25,269.08 61.8,265 C62.35,260.92 62.83,257.63 63.4,255.5 C63.97,253.37 64.52,252.37 65.2,252.2 C65.88,252.03 66.7,252.78 67.5,254.5 C68.3,256.22 69,259.35 70,262.5 C71,265.65 72.42,269.98 73.5,273.4 C74.58,276.82 75.5,280.3 76.5,283 C77.5,285.7 78.5,287.93 79.5,289.6 C80.5,291.27 81.33,292.3 82.5,293 C83.67,293.7 85.33,293.55 86.5,293.8 C87.67,294.05 88.5,294.13 89.5,294.5 C90.5,294.87 91.33,295.12 92.5,296 C93.67,296.88 95.17,298.5 96.5,299.8 C97.83,301.1 99.2,302.63 100.5,303.8 C101.8,304.97 102.97,305.97 104.3,306.8 C105.63,307.63 107.08,308.35 108.5,308.8 C109.92,309.25 111.3,309.57 112.8,309.5 C114.3,309.43 115.55,309.38 117.5,308.4 C119.45,307.42 122.08,305.58 124.5,303.6 C126.92,301.62 129.27,299 132,296.5 C134.73,294 138.1,290.83 140.9,288.6 C143.7,286.37 146.1,284.5 148.8,283.1 C151.5,281.7 154.73,280.58 157.1,280.2 C159.47,279.82 160.98,280.33 163,280.8 C165.02,281.27 166.53,282 169.2,283 C171.87,284 175.47,285.32 179,286.8 C182.53,288.28 185.95,289.83 190.4,291.9 C194.85,293.97 200.47,297.13 205.7,299.2 C210.93,301.27 216.08,302.93 221.8,304.3 C227.52,305.67 233.63,306.45 240,307.4 C246.37,308.35 252.9,309.22 260,310 C267.1,310.78 274.6,311.47 282.6,312.1 C290.6,312.73 299.25,313.33 308,313.8 C316.75,314.27 323.1,314.65 335.1,314.9 C347.1,315.15 362.43,315.2 380,315.3 C397.57,315.4 430.42,315.47 440.5,315.5" fill="none" stroke="#2f7bbf" stroke-width="1.12" stroke-linejoin="round" stroke-linecap="round" />
<line x1="89.2" y1="316.5" x2="89.2" y2="239.5" stroke="#111" stroke-width="1.1" stroke-dasharray="1.1,1.1"/>
<path d="M87.2,240 L89.2,232.2 L91.2,240 Z" fill="#111"/>
<line x1="193.7" y1="313.8" x2="188.6" y2="282" stroke="#111" stroke-width="1.1" stroke-dasharray="1.1,1.1"/>
<path d="M185.6,283.6 L187.3,276.9 L189.5,283.1 Z" fill="#111"/>
<text x="100.6" y="259.6" font-size="9" text-anchor="start" fill="#222" >π</text>
<line x1="106.7" y1="257.1" x2="112.8" y2="257.1" stroke="#222" stroke-width="0.8"/>
<path d="M114.9,257.1 L112.5,255.7 L112.5,258.5 Z" fill="#222"/>
<text x="115.2" y="259.6" font-size="9" text-anchor="start" fill="#222" >π<tspan font-size="7.5" dy="-2.0">*</tspan></text>
<text x="195.2" y="282.8" font-size="8.75" text-anchor="start" fill="#222" >π-stacking</text>
<line x1="285.8" y1="199.3" x2="304.5" y2="199.3" stroke="#555" stroke-width="1.0" />
<line x1="285.8" y1="211.3" x2="304.5" y2="211.3" stroke="#5b97cf" stroke-width="1.0" />
<line x1="285.8" y1="222.9" x2="304.5" y2="222.9" stroke="#cc5a66" stroke-width="1.0" />
<text x="308" y="202.2" font-size="9" text-anchor="start" fill="#1a1a1a" >Non-stacked H-TriPy<tspan font-size="4.6" dy="-3.2">3+</tspan><tspan dy="3.2">/H-TriPy</tspan><tspan font-size="4.6" dy="-3.2">3+</tspan></text>
<text x="308" y="214.2" font-size="9" text-anchor="start" fill="#1a1a1a" >π-stacked H-TriPy<tspan font-size="4.6" dy="-3.2">2+•</tspan></text>
<text x="308" y="225.8" font-size="9" text-anchor="start" fill="#1a1a1a" >π-stacked H-TriPy<tspan font-size="4.6" dy="-3.2">+••</tspan></text>
<line x1="510.5" y1="189.6" x2="510.5" y2="504.9" stroke="#333" stroke-width="1.0"/>
<line x1="675.5" y1="189.6" x2="675.5" y2="504.9" stroke="#333" stroke-width="1.0"/>
<line x1="510" y1="190.2" x2="676" y2="190.2" stroke="#555" stroke-width="1.2"/>
<line x1="510" y1="504.4" x2="676" y2="504.4" stroke="#333" stroke-width="1.0"/>
<line x1="529.7" y1="504.2" x2="529.7" y2="507.2" stroke="#3a3a3a" stroke-width="1" />
<text transform="translate(529.7,515.4) scale(0.95,1.1)" font-size="8.5" text-anchor="middle" fill="#1a1a1a" >500</text>
<line x1="578.34" y1="504.2" x2="578.34" y2="507.2" stroke="#3a3a3a" stroke-width="1" />
<text transform="translate(578.34,515.4) scale(0.95,1.1)" font-size="8.5" text-anchor="middle" fill="#1a1a1a" >1000</text>
<line x1="626.97" y1="504.2" x2="626.97" y2="507.2" stroke="#3a3a3a" stroke-width="1" />
<text transform="translate(626.97,515.4) scale(0.95,1.1)" font-size="8.5" text-anchor="middle" fill="#1a1a1a" >1500</text>
<line x1="675.61" y1="504.2" x2="675.61" y2="507.2" stroke="#3a3a3a" stroke-width="1" />
<text transform="translate(675.61,515.4) scale(0.95,1.1)" font-size="8.5" text-anchor="middle" fill="#1a1a1a" >2000</text>
<line x1="554.02" y1="504.2" x2="554.02" y2="506" stroke="#3a3a3a" stroke-width="1" />
<line x1="602.65" y1="504.2" x2="602.65" y2="506" stroke="#3a3a3a" stroke-width="1" />
<line x1="651.29" y1="504.2" x2="651.29" y2="506" stroke="#3a3a3a" stroke-width="1" />
<line x1="507.6" y1="498.5" x2="510.6" y2="498.5" stroke="#3a3a3a" stroke-width="1" />
<text transform="translate(505,501.2) scale(0.95,1.12)" font-size="8.5" text-anchor="end" fill="#1a1a1a" >0.0</text>
<line x1="507.6" y1="436.5" x2="510.6" y2="436.5" stroke="#3a3a3a" stroke-width="1" />
<text transform="translate(505,439.55) scale(0.95,1.12)" font-size="8.5" text-anchor="end" fill="#1a1a1a" >0.5</text>
<line x1="507.6" y1="374.5" x2="510.6" y2="374.5" stroke="#3a3a3a" stroke-width="1" />
<text transform="translate(505,377.9) scale(0.95,1.12)" font-size="8.5" text-anchor="end" fill="#1a1a1a" >1.0</text>
<line x1="507.6" y1="313.5" x2="510.6" y2="313.5" stroke="#3a3a3a" stroke-width="1" />
<text transform="translate(505,316.25) scale(0.95,1.12)" font-size="8.5" text-anchor="end" fill="#1a1a1a" >1.5</text>
<line x1="507.6" y1="251.5" x2="510.6" y2="251.5" stroke="#3a3a3a" stroke-width="1" />
<text transform="translate(505,254.6) scale(0.95,1.12)" font-size="8.5" text-anchor="end" fill="#1a1a1a" >2.0</text>
<line x1="507.6" y1="189.5" x2="510.6" y2="189.5" stroke="#3a3a3a" stroke-width="1" />
<text transform="translate(505,192.95) scale(0.95,1.12)" font-size="8.5" text-anchor="end" fill="#1a1a1a" >2.5</text>
<line x1="508.8" y1="467.38" x2="510.6" y2="467.38" stroke="#3a3a3a" stroke-width="1" />
<line x1="508.8" y1="405.73" x2="510.6" y2="405.73" stroke="#3a3a3a" stroke-width="1" />
<line x1="508.8" y1="344.07" x2="510.6" y2="344.07" stroke="#3a3a3a" stroke-width="1" />
<line x1="508.8" y1="282.42" x2="510.6" y2="282.42" stroke="#3a3a3a" stroke-width="1" />
<line x1="508.8" y1="220.77" x2="510.6" y2="220.77" stroke="#3a3a3a" stroke-width="1" />
<text x="593.2" y="525.3" font-size="10" text-anchor="middle" fill="#1a1a1a" >Wavelength (nm)</text>
<text transform="translate(491,346.6) rotate(-90)" font-size="10.1" text-anchor="middle" fill="#1a1a1a">Absorbance (a.u.)</text>
<path d="M512.6,199 C512.63,209.17 512.75,238.17 512.8,260 C512.85,281.83 512.77,311.67 512.9,330 C513.03,348.33 513.35,359.58 513.6,370 C513.85,380.42 514.03,384.58 514.4,392.5 C514.77,400.42 515.33,411.75 515.8,417.5 C516.27,423.25 516.73,424.88 517.2,427 C517.67,429.12 518.13,429.77 518.6,430.2 C519.07,430.63 519.47,430.47 520,429.6 C520.53,428.73 521.35,425.83 521.8,425 C522.25,424.17 522.4,424.1 522.7,424.6 C523,425.1 523.28,425.43 523.6,428 C523.92,430.57 524.27,435.03 524.6,440 C524.93,444.97 525.15,452.8 525.6,457.8 C526.05,462.8 526.68,466.6 527.3,470 C527.92,473.4 528.58,476.2 529.3,478.2 C530.02,480.2 530.82,481.13 531.6,482 C532.38,482.87 533.13,483.38 534,483.4 C534.87,483.42 536.05,482.08 536.8,482.1 C537.55,482.12 537.88,482.92 538.5,483.5 C539.12,484.08 539.58,484.77 540.5,485.6 C541.42,486.43 542.77,487.67 544,488.5 C545.23,489.33 546.4,490.48 547.9,490.6 C549.4,490.72 551.15,489.73 553,489.2 C554.85,488.67 556.77,488.05 559,487.4 C561.23,486.75 563.3,486.05 566.4,485.3 C569.5,484.55 574.33,483.9 577.6,482.9 C580.87,481.9 583.13,480.53 586,479.3 C588.87,478.07 592.3,476.47 594.8,475.5 C597.3,474.53 598.83,474.33 601,473.5 C603.17,472.67 605.63,471.83 607.8,470.5 C609.97,469.17 611.83,467.62 614,465.5 C616.17,463.38 618.12,461.25 620.8,457.8 C623.48,454.35 627.17,449.43 630.1,444.8 C633.03,440.17 635.5,436.28 638.4,430 C641.3,423.72 644.9,412.77 647.5,407.1 C650.1,401.43 651.92,399.48 654,396 C656.08,392.52 657.83,389.92 660,386.25 C662.17,382.58 664.47,378.51 667,374 C669.53,369.49 673.83,361.67 675.2,359.2" fill="none" stroke="#8a8a8a" stroke-width="1.1" stroke-linejoin="round" stroke-linecap="round" />
<path d="M512.8,199 L513,260 L513.3,330 L514.6,355 L516.5,371.7 L518.5,386.3 L520.6,399 L522.17,403.55 L523.75,408.1 L525.33,412.8 L526.9,417.5 L528.7,428 L530.5,441 L532.5,450.5 L533.7,453.5 L534.9,456.5 L536.2,458.65 L537.5,460.8 L539.5,461.9 L541,459.9 L542.5,459.5 L544.2,461.5 L546.2,459 L548,457.3 L549.25,451.65 L550.5,446 L551.6,440.4 L552.7,434.8 L554.1,429.9 L555.5,425 L556.6,422.25 L557.7,419.5 L559.2,416.5 L560.5,409.5 L562.5,403.8 L563.75,402.17 L565,400.53 L566.25,398.9 L567.38,398.78 L568.5,398.67 L569.62,398.55 L570.75,398.43 L571.88,398.32 L573,398.2 L574.11,398.21 L575.23,398.23 L576.34,398.24 L577.46,398.26 L578.57,398.27 L579.69,398.29 L580.8,398.3 L582.4,399.4 L584,400.5 L585.55,402.75 L587.1,405 L588.23,407.33 L589.37,409.67 L590.5,412 L591.9,415.8 L593.3,419.6 L594.65,424.05 L596,428.5 L597.17,430.33 L598.33,432.17 L599.5,434 L600.67,435.2 L601.83,436.4 L603,437.6 L604.33,437.93 L605.67,438.27 L607,438.6 L608.25,438.35 L609.5,438.1 L610.75,437.85 L612,437.6 L613.2,436.88 L614.4,436.16 L615.6,435.44 L616.8,434.72 L618,434 L619.2,432.4 L620.4,430.8 L621.6,429.2 L622.8,427.6 L624,426 L625.13,423.88 L626.27,421.77 L627.4,419.65 L628.53,417.53 L629.67,415.42 L630.8,413.3 L632,410.42 L633.2,407.53 L634.4,404.65 L635.6,401.77 L636.8,398.88 L638,396 L639.23,393.33 L640.47,390.67 L641.7,388 L642.93,385.33 L644.17,382.67 L645.4,380.15 L646.62,377.41 L647.84,375.76 L649.06,372.95 L650.28,371.27 L651.5,368.24 L652.78,367.21 L654.06,364.65 L655.34,363.77 L656.62,361.21 L657.9,360.35 L659.12,358 L660.34,356.99 L661.56,353.81 L662.78,353.43 L664,350.86 L665.28,349.87 L666.56,346.06 L667.84,345.88 L669.12,342.59 L670.4,342.06 L671.6,337.83 L672.8,335.78 L674,331.26 L675.2,329" fill="none" stroke="#2f78bb" stroke-width="1.05" stroke-linejoin="round" stroke-linecap="round" />
<path d="M513,198 L513.2,250 L513.75,330 L514.5,349 L515.4,361.3 L516.65,369.1 L517.9,376.9 L519.17,380.03 L520.43,383.17 L521.7,386.3 L523.07,388.37 L524.43,390.43 L525.8,392.5 L527,395.25 L528.2,398 L530,402.9 L531.5,405.1 L533,407.3 L534.65,408.25 L536.3,409.2 L537.4,408.6 L538.5,408 L540,406.2 L541.3,407 L542.5,404.8 L543.8,405.6 L545,403.6 L546.4,405 L547.6,403.2 L549.2,402 L550.8,400.8 L552.06,399.98 L553.32,399.16 L554.58,398.34 L555.84,397.52 L557.1,396.7 L558.23,396.24 L559.36,395.79 L560.49,395.33 L561.61,394.87 L562.74,394.41 L563.87,393.96 L565,393.5 L566.35,393.25 L567.7,393 L569.05,392.75 L570.4,392.5 L571.63,392.26 L572.86,392.01 L574.09,391.77 L575.31,391.53 L576.54,391.29 L577.77,391.04 L579,390.8 L580.16,390.69 L581.31,390.57 L582.47,390.46 L583.63,390.34 L584.79,390.23 L585.94,390.11 L587.1,390 L588.23,390.29 L589.36,390.57 L590.49,390.86 L591.61,391.14 L592.74,391.43 L593.87,391.71 L595,392 L596.25,392.31 L597.5,392.63 L598.75,392.94 L600,393.26 L601.25,393.57 L602.5,393.89 L603.75,394.2 L604.91,394.05 L606.06,393.9 L607.22,393.75 L608.38,393.6 L609.53,393.45 L610.69,393.3 L611.84,393.15 L613,393 L614.19,392.81 L615.38,392.62 L616.56,392.44 L617.75,392.25 L618.94,392.06 L620.12,391.88 L621.31,391.69 L622.5,391.5 L623.69,390.46 L624.87,389.41 L626.06,388.37 L627.24,387.33 L628.43,386.29 L629.61,385.24 L630.8,384.2 L632,382.11 L633.2,380.03 L634.4,377.94 L635.6,375.86 L636.8,373.77 L638,371.69 L639.2,369.6 L640.67,366.82 L642.13,365.01 L643.6,361.91 L644.9,360.53 L646.2,357.3 L647.5,355.82 L648.67,353.49 L649.83,353.77 L651,351.52 L652.16,351.96 L653.32,350.54 L654.48,350.59 L655.64,348.36 L656.8,349.25 L658.07,346.64 L659.33,346.61 L660.6,343.67 L661.87,343.77 L663.13,340.42 L664.4,341.25 L665.67,337.7 L666.93,337.11 L668.2,333.13 L669.47,333.2 L670.73,328.64 L672,328.8 L673.65,321.89 L675.3,320" fill="none" stroke="#c03a4a" stroke-width="1.0" stroke-linejoin="round" stroke-linecap="round" />
<line x1="521.8" y1="460.6" x2="525.9" y2="355.5" stroke="#111" stroke-width="1.1" stroke-dasharray="1.1,1.1"/>
<path d="M524.6,356 L526.1,351.5 L527.6,356.2 Z" fill="#111"/>
<line x1="575.2" y1="496.4" x2="574.4" y2="379" stroke="#111" stroke-width="1.1" stroke-dasharray="1.1,1.1"/>
<path d="M572.7,380.5 L574.3,373.6 L576,380.5 Z" fill="#111"/>
<text x="531.2" y="356.7" font-size="8.8" text-anchor="start" fill="#222" >π</text>
<line x1="537.2" y1="354.3" x2="543.6" y2="354.3" stroke="#222" stroke-width="0.8"/>
<path d="M545.7,354.3 L543.3,352.9 L543.3,355.7 Z" fill="#222"/>
<text x="546.2" y="356.7" font-size="8.8" text-anchor="start" fill="#222" >π<tspan font-size="7.5" dy="-2.0">*</tspan></text>
<text x="570.4" y="369.2" font-size="8.6" text-anchor="start" fill="#222" >π-stacking</text>
<line x1="548.5" y1="200.8" x2="559" y2="200.8" stroke="#a0a0a0" stroke-width="1.3" />
<line x1="548.5" y1="233.8" x2="559" y2="233.8" stroke="#3f86c6" stroke-width="1.3" />
<line x1="548.5" y1="266.6" x2="559" y2="266.6" stroke="#c84452" stroke-width="1.3" />
<text transform="translate(566,204.2) scale(1,1.1)" font-size="8.7" text-anchor="start" fill="#1a1a1a" >Bright mode</text>
<text transform="translate(570.7,221.3) scale(1,1.1)" font-size="8.7" text-anchor="start" fill="#1a1a1a" >H-TriPy<tspan font-size="5.2" dy="-3.1">3+</tspan></text>
<text transform="translate(566,237) scale(1,1.1)" font-size="8.7" text-anchor="start" fill="#1a1a1a" >Cool mode</text>
<text transform="translate(549.1,253.5) scale(1,1.1)" font-size="8.7" text-anchor="start" fill="#1a1a1a" >π-stacked H-TriPy<tspan font-size="5.2" dy="-3.1">2+•</tspan></text>
<text transform="translate(566,269.6) scale(1,1.1)" font-size="8.7" text-anchor="start" fill="#1a1a1a" >Dark mode</text>
<text transform="translate(549.1,285.7) scale(1,1.1)" font-size="8.7" text-anchor="start" fill="#1a1a1a" >π-stacked H-TriPy<tspan font-size="5.2" dy="-3.1">+••</tspan></text>
<line x1="40" y1="370.05" x2="40" y2="503.8" stroke="#7a7a7a" stroke-width="1.7"/>
<line x1="204.8" y1="370.05" x2="204.8" y2="503.8" stroke="#444" stroke-width="1.1"/>
<line x1="39.15" y1="370.6" x2="205.35" y2="370.6" stroke="#444" stroke-width="1.1"/>
<line x1="39.15" y1="503.3" x2="205.35" y2="503.3" stroke="#444" stroke-width="1.0"/>
<line x1="36.5" y1="370.5" x2="39.5" y2="370.5" stroke="#3a3a3a" stroke-width="1" />
<text transform="translate(34.9,373.4) scale(1.0,1.11)" font-size="8.5" text-anchor="end" fill="#1a1a1a" >10</text>
<line x1="36.5" y1="397.5" x2="39.5" y2="397.5" stroke="#3a3a3a" stroke-width="1" />
<text transform="translate(34.9,399.9) scale(1.0,1.11)" font-size="8.5" text-anchor="end" fill="#1a1a1a" >0</text>
<line x1="36.5" y1="423.5" x2="39.5" y2="423.5" stroke="#3a3a3a" stroke-width="1" />
<text transform="translate(34.9,426.4) scale(1.0,1.11)" font-size="8.5" text-anchor="end" fill="#1a1a1a" >−10</text>
<line x1="36.5" y1="450.5" x2="39.5" y2="450.5" stroke="#3a3a3a" stroke-width="1" />
<text transform="translate(34.9,452.9) scale(1.0,1.11)" font-size="8.5" text-anchor="end" fill="#1a1a1a" >−20</text>
<line x1="36.5" y1="476.5" x2="39.5" y2="476.5" stroke="#3a3a3a" stroke-width="1" />
<text transform="translate(34.9,479.4) scale(1.0,1.11)" font-size="8.5" text-anchor="end" fill="#1a1a1a" >−30</text>
<line x1="36.5" y1="503.5" x2="39.5" y2="503.5" stroke="#3a3a3a" stroke-width="1" />
<text transform="translate(34.9,505.9) scale(1.0,1.11)" font-size="8.5" text-anchor="end" fill="#1a1a1a" >−40</text>
<line x1="37.7" y1="383.75" x2="39.5" y2="383.75" stroke="#3a3a3a" stroke-width="1" />
<line x1="37.7" y1="410.25" x2="39.5" y2="410.25" stroke="#3a3a3a" stroke-width="1" />
<line x1="37.7" y1="436.75" x2="39.5" y2="436.75" stroke="#3a3a3a" stroke-width="1" />
<line x1="37.7" y1="463.25" x2="39.5" y2="463.25" stroke="#3a3a3a" stroke-width="1" />
<line x1="37.7" y1="489.75" x2="39.5" y2="489.75" stroke="#3a3a3a" stroke-width="1" />
<line x1="56.4" y1="503" x2="56.4" y2="504.8" stroke="#3a3a3a" stroke-width="1" />
<line x1="72.93" y1="503" x2="72.93" y2="505.6" stroke="#3a3a3a" stroke-width="1" />
<line x1="89.46" y1="503" x2="89.46" y2="504.8" stroke="#3a3a3a" stroke-width="1" />
<line x1="105.99" y1="503" x2="105.99" y2="504.8" stroke="#3a3a3a" stroke-width="1" />
<line x1="122.52" y1="503" x2="122.52" y2="505.6" stroke="#3a3a3a" stroke-width="1" />
<line x1="139.05" y1="503" x2="139.05" y2="504.8" stroke="#3a3a3a" stroke-width="1" />
<line x1="155.58" y1="503" x2="155.58" y2="504.8" stroke="#3a3a3a" stroke-width="1" />
<line x1="172.11" y1="503" x2="172.11" y2="505.6" stroke="#3a3a3a" stroke-width="1" />
<line x1="188.64" y1="503" x2="188.64" y2="504.8" stroke="#3a3a3a" stroke-width="1" />
<rect x="56.4" y="381.63" width="35" height="15.37" fill="#b3b3b3" stroke="#8e8e8e" stroke-width="0.8"/>
<rect x="105" y="397" width="35" height="30.74" fill="#7ea5ca" stroke="#5f87b0" stroke-width="0.6"/>
<rect x="153.7" y="397" width="35.2" height="90.36" fill="#d0848c" stroke="#b06670" stroke-width="0.6"/>
<line x1="39.5" y1="397.4" x2="204.8" y2="397.4" stroke="#2a2a2a" stroke-width="1.0" />
<text x="73.9" y="379.5" font-size="8.5" text-anchor="middle" fill="#1a1a1a" >5.8</text>
<text x="122.3" y="436" font-size="8.5" text-anchor="middle" fill="#1a1a1a" >−11.6</text>
<text x="171.2" y="495.2" font-size="8.5" text-anchor="middle" fill="#1a1a1a" >−34.1</text>
<text x="67" y="514.6" font-size="8.8" text-anchor="middle" fill="#1a1a1a" >Non-stacked</text>
<text x="31.6" y="523.3" font-size="8.8" text-anchor="start" fill="#1a1a1a" >H-TriPy<tspan font-size="4.8" dy="-3.1">3+</tspan><tspan dy="3.1">/H-TriPy</tspan><tspan font-size="4.8" dy="-3.1">3+</tspan></text>
<text x="106.4" y="514.3" font-size="8.8" text-anchor="start" fill="#1a1a1a" >π-stacked</text>
<text x="107.7" y="523.8" font-size="8.8" text-anchor="start" fill="#1a1a1a" >H-TriPy<tspan font-size="4.8" dy="-3.1">2+•</tspan></text>
<text x="155.9" y="514.3" font-size="8.8" text-anchor="start" fill="#1a1a1a" >π-stacked</text>
<text x="157" y="523.8" font-size="8.8" text-anchor="start" fill="#1a1a1a" >H-TriPy<tspan font-size="4.8" dy="-3.1">+••</tspan></text>
<text transform="translate(16.9,437.8) rotate(-90)" font-size="10" text-anchor="middle" fill="#1a1a1a">Binding energy (kcal mol<tspan font-size="6.2" dy="-3.4">−1</tspan><tspan dy="3.4">)</tspan></text>
<line x1="274.6" y1="370.1" x2="274.6" y2="503.65" stroke="#333" stroke-width="1.0"/>
<line x1="439.5" y1="370.1" x2="439.5" y2="503.65" stroke="#444" stroke-width="1.0"/>
<line x1="274.1" y1="370.6" x2="440" y2="370.6" stroke="#444" stroke-width="1.0"/>
<line x1="274.1" y1="503.1" x2="440" y2="503.1" stroke="#555" stroke-width="1.1"/>
<line x1="274.6" y1="503" x2="274.6" y2="506" stroke="#3a3a3a" stroke-width="1" />
<text transform="translate(274.3,513.8) scale(0.93,1.04)" font-size="8.5" text-anchor="middle" fill="#1a1a1a">10<tspan font-size="5.2" dy="-3.0">−2</tspan></text>
<line x1="357.05" y1="503" x2="357.05" y2="506" stroke="#3a3a3a" stroke-width="1" />
<text transform="translate(356.75,513.8) scale(0.93,1.04)" font-size="8.5" text-anchor="middle" fill="#1a1a1a">10<tspan font-size="5.2" dy="-3.0">−1</tspan></text>
<line x1="439.5" y1="503" x2="439.5" y2="506" stroke="#3a3a3a" stroke-width="1" />
<text transform="translate(439.2,513.8) scale(0.93,1.04)" font-size="8.5" text-anchor="middle" fill="#1a1a1a">10<tspan font-size="5.2" dy="-3.0">0</tspan></text>
<line x1="299.42" y1="503" x2="299.42" y2="504.6" stroke="#3a3a3a" stroke-width="0.8" />
<line x1="313.94" y1="503" x2="313.94" y2="504.6" stroke="#3a3a3a" stroke-width="0.8" />
<line x1="324.24" y1="503" x2="324.24" y2="504.6" stroke="#3a3a3a" stroke-width="0.8" />
<line x1="332.23" y1="503" x2="332.23" y2="504.6" stroke="#3a3a3a" stroke-width="0.8" />
<line x1="338.76" y1="503" x2="338.76" y2="504.6" stroke="#3a3a3a" stroke-width="0.8" />
<line x1="344.28" y1="503" x2="344.28" y2="504.6" stroke="#3a3a3a" stroke-width="0.8" />
<line x1="349.06" y1="503" x2="349.06" y2="504.6" stroke="#3a3a3a" stroke-width="0.8" />
<line x1="353.28" y1="503" x2="353.28" y2="504.6" stroke="#3a3a3a" stroke-width="0.8" />
<line x1="381.87" y1="503" x2="381.87" y2="504.6" stroke="#3a3a3a" stroke-width="0.8" />
<line x1="396.39" y1="503" x2="396.39" y2="504.6" stroke="#3a3a3a" stroke-width="0.8" />
<line x1="406.69" y1="503" x2="406.69" y2="504.6" stroke="#3a3a3a" stroke-width="0.8" />
<line x1="414.68" y1="503" x2="414.68" y2="504.6" stroke="#3a3a3a" stroke-width="0.8" />
<line x1="421.21" y1="503" x2="421.21" y2="504.6" stroke="#3a3a3a" stroke-width="0.8" />
<line x1="426.73" y1="503" x2="426.73" y2="504.6" stroke="#3a3a3a" stroke-width="0.8" />
<line x1="431.51" y1="503" x2="431.51" y2="504.6" stroke="#3a3a3a" stroke-width="0.8" />
<line x1="435.73" y1="503" x2="435.73" y2="504.6" stroke="#3a3a3a" stroke-width="0.8" />
<line x1="271.6" y1="370.5" x2="274.6" y2="370.5" stroke="#3a3a3a" stroke-width="1" />
<text transform="translate(271,373.7) scale(0.93,1.04)" font-size="8.5" text-anchor="end" fill="#1a1a1a">10<tspan font-size="5.0" dy="-2.8">1</tspan></text>
<line x1="271.6" y1="403.5" x2="274.6" y2="403.5" stroke="#3a3a3a" stroke-width="1" />
<text transform="translate(271,406.8) scale(0.93,1.04)" font-size="8.5" text-anchor="end" fill="#1a1a1a">10<tspan font-size="5.0" dy="-2.8">0</tspan></text>
<line x1="271.6" y1="436.5" x2="274.6" y2="436.5" stroke="#3a3a3a" stroke-width="1" />
<text transform="translate(271,439.9) scale(0.93,1.04)" font-size="8.5" text-anchor="end" fill="#1a1a1a">10<tspan font-size="5.0" dy="-2.8">−1</tspan></text>
<line x1="271.6" y1="469.5" x2="274.6" y2="469.5" stroke="#3a3a3a" stroke-width="1" />
<text transform="translate(271,473) scale(0.93,1.04)" font-size="8.5" text-anchor="end" fill="#1a1a1a">10<tspan font-size="5.0" dy="-2.8">−2</tspan></text>
<line x1="271.6" y1="503.5" x2="274.6" y2="503.5" stroke="#3a3a3a" stroke-width="1" />
<text transform="translate(271,506.1) scale(0.93,1.04)" font-size="8.5" text-anchor="end" fill="#1a1a1a">10<tspan font-size="5.0" dy="-2.8">−3</tspan></text>
<line x1="273" y1="393.74" x2="274.6" y2="393.74" stroke="#3a3a3a" stroke-width="0.8" />
<line x1="273" y1="387.91" x2="274.6" y2="387.91" stroke="#3a3a3a" stroke-width="0.8" />
<line x1="273" y1="383.77" x2="274.6" y2="383.77" stroke="#3a3a3a" stroke-width="0.8" />
<line x1="273" y1="380.56" x2="274.6" y2="380.56" stroke="#3a3a3a" stroke-width="0.8" />
<line x1="273" y1="377.94" x2="274.6" y2="377.94" stroke="#3a3a3a" stroke-width="0.8" />
<line x1="273" y1="375.73" x2="274.6" y2="375.73" stroke="#3a3a3a" stroke-width="0.8" />
<line x1="273" y1="373.81" x2="274.6" y2="373.81" stroke="#3a3a3a" stroke-width="0.8" />
<line x1="273" y1="372.11" x2="274.6" y2="372.11" stroke="#3a3a3a" stroke-width="0.8" />
<line x1="273" y1="426.84" x2="274.6" y2="426.84" stroke="#3a3a3a" stroke-width="0.8" />
<line x1="273" y1="421.01" x2="274.6" y2="421.01" stroke="#3a3a3a" stroke-width="0.8" />
<line x1="273" y1="416.87" x2="274.6" y2="416.87" stroke="#3a3a3a" stroke-width="0.8" />
<line x1="273" y1="413.66" x2="274.6" y2="413.66" stroke="#3a3a3a" stroke-width="0.8" />
<line x1="273" y1="411.04" x2="274.6" y2="411.04" stroke="#3a3a3a" stroke-width="0.8" />
<line x1="273" y1="408.83" x2="274.6" y2="408.83" stroke="#3a3a3a" stroke-width="0.8" />
<line x1="273" y1="406.91" x2="274.6" y2="406.91" stroke="#3a3a3a" stroke-width="0.8" />
<line x1="273" y1="405.21" x2="274.6" y2="405.21" stroke="#3a3a3a" stroke-width="0.8" />
<line x1="273" y1="459.94" x2="274.6" y2="459.94" stroke="#3a3a3a" stroke-width="0.8" />
<line x1="273" y1="454.11" x2="274.6" y2="454.11" stroke="#3a3a3a" stroke-width="0.8" />
<line x1="273" y1="449.97" x2="274.6" y2="449.97" stroke="#3a3a3a" stroke-width="0.8" />
<line x1="273" y1="446.76" x2="274.6" y2="446.76" stroke="#3a3a3a" stroke-width="0.8" />
<line x1="273" y1="444.14" x2="274.6" y2="444.14" stroke="#3a3a3a" stroke-width="0.8" />
<line x1="273" y1="441.93" x2="274.6" y2="441.93" stroke="#3a3a3a" stroke-width="0.8" />
<line x1="273" y1="440.01" x2="274.6" y2="440.01" stroke="#3a3a3a" stroke-width="0.8" />
<line x1="273" y1="438.31" x2="274.6" y2="438.31" stroke="#3a3a3a" stroke-width="0.8" />
<line x1="273" y1="493.04" x2="274.6" y2="493.04" stroke="#3a3a3a" stroke-width="0.8" />
<line x1="273" y1="487.21" x2="274.6" y2="487.21" stroke="#3a3a3a" stroke-width="0.8" />
<line x1="273" y1="483.07" x2="274.6" y2="483.07" stroke="#3a3a3a" stroke-width="0.8" />
<line x1="273" y1="479.86" x2="274.6" y2="479.86" stroke="#3a3a3a" stroke-width="0.8" />
<line x1="273" y1="477.24" x2="274.6" y2="477.24" stroke="#3a3a3a" stroke-width="0.8" />
<line x1="273" y1="475.03" x2="274.6" y2="475.03" stroke="#3a3a3a" stroke-width="0.8" />
<line x1="273" y1="473.11" x2="274.6" y2="473.11" stroke="#3a3a3a" stroke-width="0.8" />
<line x1="273" y1="471.41" x2="274.6" y2="471.41" stroke="#3a3a3a" stroke-width="0.8" />
<text x="360.5" y="524.3" font-size="10" text-anchor="middle" fill="#1a1a1a" >Scattering vector (Q<tspan font-size="6" dy="-3.6">−1</tspan><tspan dy="3.6"> Å</tspan><tspan font-size="6" dy="-3.6">−1</tspan><tspan dy="3.6">)</tspan></text>
<text transform="translate(253,437.5) rotate(-90)" font-size="10.2" text-anchor="middle" fill="#1a1a1a">Intensity (a.u.)</text>
<path d="M292.1,466.2 L293.3,467.85 L294.5,469.5 L295.47,470.43 L296.43,471.37 L297.4,472.3 L298.55,472.3 L299.7,472.3 L300.85,471.26 L302,470.92 L303.1,470.92 L304.2,470.3" fill="none" stroke="#2f78bb" stroke-width="1.05" stroke-linejoin="round" stroke-linecap="round" />
<path d="M304.2,469.79 L304.62,469.72 L305.04,470.89 L305.47,471.16 L305.89,470.99 L306.31,470.92 L306.73,471.41 L307.16,470.96 L307.58,470.43 L308,471.43 L308.4,472.16 L308.8,471.94 L309.2,471.84 L309.6,472.52 L310,472.81 L310.43,473.13 L310.87,473.76 L311.3,473.48 L311.73,474.45 L312.17,475.1 L312.6,474.44 L313.02,474.29 L313.44,474.99 L313.87,473.44 L314.29,473.25 L314.71,473.56 L315.13,472.31 L315.56,472.64 L315.98,473.33 L316.4,472.33 L316.81,471.2 L317.22,473.17 L317.63,473.41 L318.04,472.93 L318.45,472.62 L318.85,473 L319.26,472.56 L319.67,473.3 L320.08,472.23 L320.49,474.5 L320.9,474.07 L321.31,474.23 L321.73,475.05 L322.14,474.34 L322.55,473.64 L322.97,474.06 L323.38,474.9 L323.8,473.42 L324.21,474.3 L324.62,472.91 L325.04,475.05 L325.45,474.51 L325.86,473.87 L326.28,474.59 L326.69,474.57 L327.1,473.51 L327.52,474.89 L327.93,474.53 L328.35,474.38 L328.76,473.93 L329.17,471.76 L329.59,473.37 L330,474.67 L330.4,474.64 L330.8,474.69 L331.2,473.29 L331.6,473.25 L332,474.08 L332.4,474.51 L332.8,474.15 L333.2,473.05 L333.6,474.68 L334,474.37 L334.4,473.25 L334.8,473.56 L335.2,474.84 L335.6,473.71 L336,474.37 L336.4,473.18 L336.8,474.75 L337.2,473.23 L337.6,474.93 L338,473.66 L338.4,471.2 L338.8,474.28 L339.2,474.88 L339.6,474.76 L340,473.4 L340.41,473.58 L340.81,474.2 L341.22,473.85 L341.62,474.89 L342.03,473.95 L342.43,474.9 L342.84,474.94 L343.24,474.13 L343.65,473.04 L344.05,471.47 L344.46,473.38 L344.86,474.58 L345.27,473.72 L345.67,474.23 L346.08,473.26 L346.48,473.57 L346.89,474.73 L347.29,474.27 L347.7,475.05 L348.1,474.4 L348.51,474.19 L348.91,474.06 L349.32,474.13 L349.72,474.63 L350.13,475.18 L350.53,474.33 L350.94,474.97 L351.34,473.36 L351.75,473.25 L352.15,473.26 L352.56,474.89 L352.96,473.45 L353.37,474.62 L353.77,475.14 L354.18,473.62 L354.58,474.04 L354.99,475.42 L355.39,473.5 L355.8,474.34 L356.21,473.56 L356.61,472.95 L357.02,472.52 L357.42,474.5 L357.83,473.15 L358.23,474.85 L358.64,473.2 L359.05,473.02 L359.45,473.54 L359.86,473.88 L360.26,474.82 L360.67,473.18 L361.07,474.17 L361.48,470.93 L361.89,471.41 L362.29,474.26 L362.7,472.89 L363.1,472.82 L363.51,473.75 L363.91,473.97 L364.32,473.24 L364.73,473.86 L365.13,472.8 L365.54,472.63 L365.94,473.26 L366.35,474.36 L366.75,473.68 L367.16,471.69 L367.57,472.41 L367.97,473.74 L368.38,473.53 L368.78,472.56 L369.19,473.37 L369.59,474.38 L370,473.52 L370.4,474.74 L370.8,474.34 L371.2,473.83 L371.6,471.6 L372,472.34 L372.4,472.81 L372.8,472.35 L373.2,474.41 L373.6,472.85 L374,472.87 L374.4,472.5 L374.8,472.78 L375.2,474.65 L375.6,472.71 L376,472.87 L376.4,472.03 L376.8,473.3 L377.2,472.55 L377.6,472.01 L378,472.23 L378.4,470.31 L378.8,472.6 L379.2,473.4 L379.6,473.74 L380,474.34 L380.4,472.81 L380.8,472.31 L381.2,471.13 L381.6,474.35 L382,473.9 L382.4,472.24 L382.8,473.24 L383.2,474.07 L383.6,473.45 L384,473.71 L384.4,470.83 L384.8,472.79 L385.2,474.12 L385.6,473.52 L386,473.66 L386.4,471.72 L386.8,473.84 L387.2,473.22 L387.6,471.86 L388,470.57 L388.4,473.75 L388.8,473.77 L389.2,473.05 L389.6,473 L390,473.83 L390.4,471.78 L390.8,472.31 L391.2,472.45 L391.6,469.71 L392,473.51 L392.4,473.51 L392.8,473.03 L393.2,472.87 L393.6,474.13 L394,474.37 L394.4,471.5 L394.8,473.89 L395.2,472.77 L395.6,472.04 L396,472.03 L396.4,471.81 L396.8,474.25 L397.2,473.84 L397.6,474.04 L398,472.03 L398.4,471.27 L398.8,472.8 L399.2,472.21 L399.6,472.33 L400,471.15 L400.4,473.85 L400.81,474.13 L401.21,474.06 L401.62,472.42 L402.02,474.37 L402.43,472.39 L402.83,470.4 L403.23,473.88 L403.64,474.21 L404.04,472.11 L404.45,471.87 L404.85,474.29 L405.26,473.84 L405.66,474.17 L406.06,473.02 L406.47,471.43 L406.87,472.72 L407.28,473.34 L407.68,471.43 L408.09,471.69 L408.49,472.39 L408.89,473.67 L409.3,472.12 L409.7,472.26 L410.11,472.56 L410.51,471.81 L410.91,474.24 L411.32,472 L411.72,474.55 L412.13,471.74 L412.53,471.59 L412.94,471.59 L413.34,472.14 L413.74,474.23 L414.15,472.66 L414.55,473.03 L414.96,470.29 L415.36,474.52 L415.77,472.98 L416.17,474.19 L416.57,472.21 L416.98,472.64 L417.38,474.51 L417.79,472.5 L418.19,473.7 L418.6,472.91 L419,473" fill="none" stroke="#2f78bb" stroke-width="0.85" stroke-linejoin="round" stroke-linecap="round" />
<path d="M292,408.8 L302,420 L313.3,433.6 L325.5,445.8 L337.6,458.6 L348.2,467.7" fill="none" stroke="#c03a4a" stroke-width="1.1" stroke-linejoin="round" stroke-linecap="round" />
<path d="M348.2,467.7 L348.55,467.92 L348.91,468.15 L349.26,468.37 L349.61,468.59 L349.96,468.82 L350.32,469.04 L350.67,469.26 L351.02,469.49 L351.38,469.71 L351.73,469.94 L352.08,469.16 L352.44,471.24 L352.79,471.32 L353.14,471.84 L353.49,471.1 L353.85,472.18 L354.2,471.8 L354.56,471.59 L354.92,470.9 L355.29,471.48 L355.65,472.53 L356.01,471.62 L356.37,472.87 L356.73,474.05 L357.1,473.13 L357.46,472.53 L357.82,472.25 L358.18,473.41 L358.54,473.99 L358.9,473.8 L359.27,473.48 L359.63,474.67 L359.99,473.33 L360.35,474.97 L360.71,474.21 L361.08,475.9 L361.44,474.06 L361.8,475.12 L362.16,474.69 L362.53,476.01 L362.89,474.86 L363.26,475.18 L363.62,475.07 L363.98,476.39 L364.35,476.92 L364.71,475.2 L365.08,475.82 L365.44,477.17 L365.8,475.93 L366.17,477.4 L366.53,477.44 L366.9,477.38 L367.26,477.06 L367.62,477.63 L367.99,475.89 L368.35,480 L368.72,476.52 L369.08,476.48 L369.44,475.74 L369.81,476.69 L370.17,476.2 L370.54,476.48 L370.9,478.11 L371.25,479.57 L371.6,477 L371.95,476.55 L372.3,480.72 L372.65,478.16 L373,477.97 L373.35,478.47 L373.7,478.04 L374.05,476.98 L374.4,478.62 L374.75,476.8 L375.1,476.95 L375.45,476.13 L375.8,478.57 L376.15,480.81 L376.5,477.42 L376.85,478.72 L377.2,476.83 L377.55,477.5 L377.9,476.67 L378.25,478.19 L378.6,478.3 L378.95,477.09 L379.3,477.2 L379.65,476.42 L380,478.3 L380.35,479.2 L380.7,477.1 L381.05,478.66 L381.4,478.92 L381.75,477.56 L382.11,477.41 L382.46,477.31 L382.81,478.04 L383.16,478.53 L383.51,476.44 L383.86,476.93 L384.21,477.15 L384.56,476.63 L384.91,476.76 L385.26,478.62 L385.61,476.98 L385.96,478.93 L386.32,476.68 L386.67,477.92 L387.02,476.27 L387.37,478.41 L387.72,481.21 L388.07,476.29 L388.42,478.86 L388.77,478.73 L389.12,478.53 L389.47,476.68 L389.82,481.94 L390.18,477.76 L390.53,476.99 L390.88,476.47 L391.23,477.68 L391.58,479.13 L391.93,477.92 L392.28,476.77 L392.63,478.27 L392.98,478.82 L393.33,477.49 L393.68,476.03 L394.04,477.94 L394.39,476.62 L394.74,478.75 L395.09,477.51 L395.44,477.02 L395.79,478.89 L396.14,476.3 L396.49,480.32 L396.84,477.01 L397.19,476.95 L397.54,477.12 L397.89,475.65 L398.25,477.7 L398.6,475.87 L398.95,476.79 L399.3,476.04 L399.65,477.28 L400,475.89 L400.35,478.2 L400.71,476.15 L401.06,478.64 L401.41,481.31 L401.76,476.73 L402.12,477.5 L402.47,475.92 L402.82,476.11 L403.18,478.23 L403.53,475.93 L403.88,476.66 L404.24,476.59 L404.59,476.09 L404.94,481.87 L405.29,482.01 L405.65,475.58 L406,477.08 L406.35,476.2 L406.71,477.16 L407.06,477.41 L407.41,480.35 L407.76,476.77 L408.12,477.74 L408.47,476.63 L408.82,479.3 L409.18,479.87 L409.53,480.6 L409.88,475.19 L410.24,477.7 L410.59,475.05 L410.94,476.21 L411.29,475.3 L411.65,478.44 L412,477.76 L412.37,478.4 L412.73,478.33 L413.1,475.42 L413.46,481.55 L413.82,477.66 L414.19,478.2 L414.56,477.92 L414.92,476.77 L415.29,475.68 L415.65,476.82 L416.01,475.06 L416.38,475.55 L416.75,477.55 L417.11,475.61 L417.48,475.42 L417.84,477.44 L418.2,478.38 L418.57,477.27 L418.94,475.45 L419.3,477" fill="none" stroke="#c03a4a" stroke-width="0.85" stroke-linejoin="round" stroke-linecap="round" />
<line x1="419.3" y1="476" x2="419.3" y2="490.5" stroke="#c03a4a" stroke-width="1.1" />
<line x1="376" y1="378.7" x2="387" y2="378.7" stroke="#5d9ad0" stroke-width="1.3" />
<line x1="376" y1="389.3" x2="387" y2="389.3" stroke="#c84452" stroke-width="1.3" />
<text x="389.2" y="381.7" font-size="8.7" text-anchor="start" fill="#1a1a1a" >Bright mode</text>
<text x="389.2" y="392.1" font-size="8.7" text-anchor="start" fill="#1a1a1a" >Dark mode</text>
<defs><radialGradient id="sx1" cx="0.5" cy="0.5" r="0.5"><stop offset="0" stop-color="#000"/><stop offset="0.07" stop-color="#000"/><stop offset="0.12" stop-color="#30a040"/><stop offset="0.18" stop-color="#1a5a80"/><stop offset="0.35" stop-color="#0d3d78"/><stop offset="1" stop-color="#0a2c66"/></radialGradient><radialGradient id="sx2" cx="0.5" cy="0.5" r="0.5"><stop offset="0" stop-color="#000"/><stop offset="0.07" stop-color="#100000"/><stop offset="0.12" stop-color="#d81010"/><stop offset="0.2" stop-color="#f06010"/><stop offset="0.27" stop-color="#e0c020"/><stop offset="0.35" stop-color="#50b040"/><stop offset="0.45" stop-color="#1a8080"/><stop offset="0.62" stop-color="#0e4a88"/><stop offset="1" stop-color="#0a2a62"/></radialGradient></defs>
<rect x="386.1" y="406.1" width="30.2" height="29.5" fill="url(#sx1)"/>
<rect x="386.1" y="437.5" width="30.2" height="29.4" fill="url(#sx2)"/>
<rect x="404.75" y="417.54" width="0.8" height="0.8" fill="#2a70b0"/><rect x="394.06" y="465.93" width="0.8" height="0.8" fill="#0a2050"/><rect x="396.86" y="428.09" width="0.8" height="0.8" fill="#06183c"/><rect x="393.04" y="455.24" width="0.8" height="0.8" fill="#1a5aa0"/><rect x="394.98" y="421.01" width="0.8" height="0.8" fill="#2a70b0"/><rect x="405.03" y="465.75" width="0.8" height="0.8" fill="#2a70b0"/><rect x="407.78" y="427.59" width="0.8" height="0.8" fill="#0a2050"/><rect x="390.68" y="455.26" width="0.8" height="0.8" fill="#06183c"/><rect x="398.54" y="416.68" width="0.8" height="0.8" fill="#1a5aa0"/><rect x="390.17" y="444.18" width="0.8" height="0.8" fill="#1a5aa0"/><rect x="386.95" y="406.37" width="0.8" height="0.8" fill="#2a70b0"/><rect x="401.95" y="418.08" width="0.8" height="0.8" fill="#2a70b0"/><rect x="403.56" y="443.52" width="0.8" height="0.8" fill="#06183c"/><rect x="390.95" y="406.7" width="0.8" height="0.8" fill="#0a2050"/><rect x="388.17" y="410.42" width="0.8" height="0.8" fill="#2a70b0"/><rect x="386.64" y="424.68" width="0.8" height="0.8" fill="#2a70b0"/><rect x="403.94" y="421.05" width="0.8" height="0.8" fill="#06183c"/><rect x="393.58" y="463.45" width="0.8" height="0.8" fill="#1a5aa0"/><rect x="388.1" y="407.02" width="0.8" height="0.8" fill="#0a2050"/><rect x="393.26" y="439.36" width="0.8" height="0.8" fill="#1a5aa0"/><rect x="386.66" y="422" width="0.8" height="0.8" fill="#0a2050"/><rect x="390.47" y="443.39" width="0.8" height="0.8" fill="#06183c"/><rect x="410.13" y="411.28" width="0.8" height="0.8" fill="#2a70b0"/><rect x="388.17" y="455.54" width="0.8" height="0.8" fill="#06183c"/><rect x="407.26" y="406.48" width="0.8" height="0.8" fill="#06183c"/><rect x="408.03" y="419.2" width="0.8" height="0.8" fill="#0a2050"/><rect x="415.5" y="445.15" width="0.8" height="0.8" fill="#1a5aa0"/><rect x="389.91" y="431.7" width="0.8" height="0.8" fill="#2a70b0"/><rect x="407.15" y="445.28" width="0.8" height="0.8" fill="#06183c"/><rect x="406.39" y="432.44" width="0.8" height="0.8" fill="#2a70b0"/><rect x="394.96" y="464.16" width="0.8" height="0.8" fill="#0a2050"/><rect x="388.8" y="420.76" width="0.8" height="0.8" fill="#0a2050"/><rect x="393.93" y="444.43" width="0.8" height="0.8" fill="#0a2050"/><rect x="413.98" y="427.57" width="0.8" height="0.8" fill="#2a70b0"/><rect x="391.92" y="448.78" width="0.8" height="0.8" fill="#0a2050"/><rect x="397.42" y="430.58" width="0.8" height="0.8" fill="#06183c"/><rect x="386.49" y="407.06" width="0.8" height="0.8" fill="#0a2050"/><rect x="392.51" y="424.04" width="0.8" height="0.8" fill="#1a5aa0"/><rect x="402.86" y="442.59" width="0.8" height="0.8" fill="#1a5aa0"/><rect x="387.09" y="409.34" width="0.8" height="0.8" fill="#0a2050"/><rect x="396.4" y="441.74" width="0.8" height="0.8" fill="#1a5aa0"/><rect x="387.2" y="410.24" width="0.8" height="0.8" fill="#1a5aa0"/><rect x="406.72" y="458.7" width="0.8" height="0.8" fill="#1a5aa0"/><rect x="411.4" y="428.01" width="0.8" height="0.8" fill="#0a2050"/><rect x="410.25" y="461.06" width="0.8" height="0.8" fill="#1a5aa0"/><rect x="412.08" y="427.84" width="0.8" height="0.8" fill="#06183c"/><rect x="389.44" y="443.56" width="0.8" height="0.8" fill="#1a5aa0"/><rect x="387.29" y="433.35" width="0.8" height="0.8" fill="#1a5aa0"/><rect x="410.47" y="455.7" width="0.8" height="0.8" fill="#2a70b0"/><rect x="400.28" y="410.08" width="0.8" height="0.8" fill="#0a2050"/><rect x="394.93" y="447.29" width="0.8" height="0.8" fill="#2a70b0"/><rect x="386.91" y="413.62" width="0.8" height="0.8" fill="#2a70b0"/><rect x="387.72" y="459.36" width="0.8" height="0.8" fill="#2a70b0"/><rect x="408.84" y="423.46" width="0.8" height="0.8" fill="#06183c"/><rect x="411.25" y="455.32" width="0.8" height="0.8" fill="#1a5aa0"/><rect x="409.42" y="407.19" width="0.8" height="0.8" fill="#1a5aa0"/><rect x="402.06" y="412.47" width="0.8" height="0.8" fill="#1a5aa0"/><rect x="399.08" y="421.22" width="0.8" height="0.8" fill="#2a70b0"/><rect x="408.63" y="465.57" width="0.8" height="0.8" fill="#1a5aa0"/><rect x="396.49" y="409.03" width="0.8" height="0.8" fill="#0a2050"/><rect x="414.64" y="454.59" width="0.8" height="0.8" fill="#2a70b0"/><rect x="403.24" y="410.83" width="0.8" height="0.8" fill="#0a2050"/><rect x="413.79" y="444.3" width="0.8" height="0.8" fill="#0a2050"/><rect x="389.52" y="424.44" width="0.8" height="0.8" fill="#1a5aa0"/><rect x="400.67" y="465.95" width="0.8" height="0.8" fill="#1a5aa0"/><rect x="404.7" y="416.44" width="0.8" height="0.8" fill="#06183c"/><rect x="413.51" y="463.12" width="0.8" height="0.8" fill="#1a5aa0"/><rect x="398.67" y="424.71" width="0.8" height="0.8" fill="#2a70b0"/><rect x="392.34" y="445.2" width="0.8" height="0.8" fill="#0a2050"/><rect x="397.41" y="431.49" width="0.8" height="0.8" fill="#0a2050"/><rect x="413.96" y="441.32" width="0.8" height="0.8" fill="#1a5aa0"/><rect x="396.51" y="415.61" width="0.8" height="0.8" fill="#0a2050"/><rect x="411.73" y="450.53" width="0.8" height="0.8" fill="#2a70b0"/><rect x="391.27" y="418.81" width="0.8" height="0.8" fill="#2a70b0"/><rect x="403.27" y="441.29" width="0.8" height="0.8" fill="#06183c"/><rect x="405.13" y="426.15" width="0.8" height="0.8" fill="#0a2050"/><rect x="394.14" y="459.21" width="0.8" height="0.8" fill="#0a2050"/><rect x="407.49" y="434.08" width="0.8" height="0.8" fill="#2a70b0"/><rect x="393.22" y="433.54" width="0.8" height="0.8" fill="#2a70b0"/><rect x="414.87" y="458.47" width="0.8" height="0.8" fill="#1a5aa0"/><rect x="391.12" y="425.05" width="0.8" height="0.8" fill="#0a2050"/><rect x="397.56" y="465.74" width="0.8" height="0.8" fill="#2a70b0"/><rect x="407.79" y="418.7" width="0.8" height="0.8" fill="#0a2050"/><rect x="389.5" y="463.67" width="0.8" height="0.8" fill="#2a70b0"/><rect x="392.35" y="417.37" width="0.8" height="0.8" fill="#1a5aa0"/><rect x="386.67" y="462.05" width="0.8" height="0.8" fill="#06183c"/><rect x="406.62" y="420.56" width="0.8" height="0.8" fill="#2a70b0"/><rect x="399.87" y="441.74" width="0.8" height="0.8" fill="#06183c"/><rect x="386.46" y="413.21" width="0.8" height="0.8" fill="#06183c"/><rect x="405.26" y="430.41" width="0.8" height="0.8" fill="#0a2050"/><rect x="399.6" y="415.22" width="0.8" height="0.8" fill="#1a5aa0"/><rect x="412.52" y="444.61" width="0.8" height="0.8" fill="#06183c"/><rect x="407.2" y="424.24" width="0.8" height="0.8" fill="#2a70b0"/><rect x="411.19" y="451.46" width="0.8" height="0.8" fill="#1a5aa0"/><rect x="404.51" y="417.97" width="0.8" height="0.8" fill="#0a2050"/><rect x="412.51" y="447.05" width="0.8" height="0.8" fill="#1a5aa0"/><rect x="397.69" y="420.26" width="0.8" height="0.8" fill="#1a5aa0"/><rect x="387.42" y="453.19" width="0.8" height="0.8" fill="#0a2050"/><rect x="407.29" y="433.41" width="0.8" height="0.8" fill="#0a2050"/><rect x="401.51" y="440.58" width="0.8" height="0.8" fill="#06183c"/><rect x="402.15" y="426.74" width="0.8" height="0.8" fill="#1a5aa0"/><rect x="405.03" y="461.33" width="0.8" height="0.8" fill="#2a70b0"/><rect x="398.32" y="433.32" width="0.8" height="0.8" fill="#0a2050"/><rect x="415.32" y="442.94" width="0.8" height="0.8" fill="#1a5aa0"/><rect x="407.66" y="423.8" width="0.8" height="0.8" fill="#1a5aa0"/><rect x="393.7" y="448.58" width="0.8" height="0.8" fill="#1a5aa0"/><rect x="386.69" y="418.23" width="0.8" height="0.8" fill="#06183c"/><rect x="403.3" y="409.41" width="0.8" height="0.8" fill="#2a70b0"/><rect x="408.03" y="464.49" width="0.8" height="0.8" fill="#0a2050"/><rect x="415.43" y="433.68" width="0.8" height="0.8" fill="#06183c"/><rect x="392.51" y="441.39" width="0.8" height="0.8" fill="#1a5aa0"/><rect x="410.02" y="424.38" width="0.8" height="0.8" fill="#06183c"/><rect x="410.17" y="410.47" width="0.8" height="0.8" fill="#06183c"/><rect x="402.36" y="409.87" width="0.8" height="0.8" fill="#06183c"/><rect x="396.69" y="461.94" width="0.8" height="0.8" fill="#2a70b0"/><rect x="406.93" y="425.89" width="0.8" height="0.8" fill="#06183c"/><rect x="409.9" y="429.07" width="0.8" height="0.8" fill="#2a70b0"/><rect x="393.48" y="446.3" width="0.8" height="0.8" fill="#06183c"/><rect x="400.51" y="424.07" width="0.8" height="0.8" fill="#1a5aa0"/><rect x="413.51" y="430.65" width="0.8" height="0.8" fill="#1a5aa0"/><rect x="388.8" y="453.79" width="0.8" height="0.8" fill="#2a70b0"/><rect x="409.27" y="410.3" width="0.8" height="0.8" fill="#2a70b0"/><rect x="404.85" y="438.13" width="0.8" height="0.8" fill="#1a5aa0"/><rect x="392.45" y="408.35" width="0.8" height="0.8" fill="#2a70b0"/><rect x="393.63" y="440.59" width="0.8" height="0.8" fill="#0a2050"/><rect x="411.33" y="411.59" width="0.8" height="0.8" fill="#06183c"/><rect x="396.45" y="442.05" width="0.8" height="0.8" fill="#06183c"/><rect x="409.5" y="411.09" width="0.8" height="0.8" fill="#1a5aa0"/><rect x="405.89" y="463.18" width="0.8" height="0.8" fill="#2a70b0"/><rect x="392.08" y="426.04" width="0.8" height="0.8" fill="#1a5aa0"/><rect x="412.16" y="422.12" width="0.8" height="0.8" fill="#2a70b0"/><rect x="398.58" y="461.27" width="0.8" height="0.8" fill="#06183c"/><rect x="400.75" y="407.97" width="0.8" height="0.8" fill="#06183c"/><rect x="412.83" y="457.66" width="0.8" height="0.8" fill="#0a2050"/><rect x="411.58" y="437.89" width="0.8" height="0.8" fill="#2a70b0"/><rect x="405.79" y="461.66" width="0.8" height="0.8" fill="#2a70b0"/><rect x="398.78" y="434.8" width="0.8" height="0.8" fill="#1a5aa0"/><rect x="391.59" y="447.97" width="0.8" height="0.8" fill="#1a5aa0"/><rect x="386.9" y="407.61" width="0.8" height="0.8" fill="#2a70b0"/><rect x="409.99" y="440.38" width="0.8" height="0.8" fill="#06183c"/><rect x="400.5" y="431.88" width="0.8" height="0.8" fill="#1a5aa0"/><rect x="392.55" y="449.54" width="0.8" height="0.8" fill="#0a2050"/><rect x="396.22" y="430.86" width="0.8" height="0.8" fill="#2a70b0"/><rect x="396.3" y="459.89" width="0.8" height="0.8" fill="#0a2050"/><rect x="394.63" y="416.05" width="0.8" height="0.8" fill="#2a70b0"/><rect x="402.53" y="461.26" width="0.8" height="0.8" fill="#2a70b0"/><rect x="396.71" y="420.37" width="0.8" height="0.8" fill="#2a70b0"/><rect x="401.14" y="434.09" width="0.8" height="0.8" fill="#06183c"/><rect x="409.5" y="447.13" width="0.8" height="0.8" fill="#2a70b0"/><rect x="407.2" y="409.94" width="0.8" height="0.8" fill="#1a5aa0"/><rect x="409.28" y="438.84" width="0.8" height="0.8" fill="#06183c"/><rect x="402.28" y="407.72" width="0.8" height="0.8" fill="#2a70b0"/><rect x="389.48" y="439.02" width="0.8" height="0.8" fill="#06183c"/><rect x="404.13" y="425.05" width="0.8" height="0.8" fill="#06183c"/><rect x="406.7" y="423.29" width="0.8" height="0.8" fill="#1a5aa0"/><rect x="392.53" y="456.71" width="0.8" height="0.8" fill="#06183c"/><rect x="404.62" y="411.26" width="0.8" height="0.8" fill="#0a2050"/><rect x="411.77" y="449.71" width="0.8" height="0.8" fill="#1a5aa0"/><rect x="413.08" y="424.99" width="0.8" height="0.8" fill="#2a70b0"/><rect x="411.85" y="441.65" width="0.8" height="0.8" fill="#2a70b0"/><rect x="402.77" y="413.65" width="0.8" height="0.8" fill="#2a70b0"/><rect x="391.71" y="438.68" width="0.8" height="0.8" fill="#1a5aa0"/><rect x="398.92" y="424.59" width="0.8" height="0.8" fill="#1a5aa0"/><rect x="410.47" y="428.35" width="0.8" height="0.8" fill="#06183c"/><rect x="403.16" y="463.88" width="0.8" height="0.8" fill="#06183c"/><rect x="388.27" y="425.68" width="0.8" height="0.8" fill="#0a2050"/><rect x="389.29" y="424.67" width="0.8" height="0.8" fill="#0a2050"/><rect x="412.55" y="455.57" width="0.8" height="0.8" fill="#06183c"/><rect x="386.44" y="425.79" width="0.8" height="0.8" fill="#1a5aa0"/><rect x="415.21" y="462.17" width="0.8" height="0.8" fill="#0a2050"/><rect x="411.78" y="409.98" width="0.8" height="0.8" fill="#1a5aa0"/><rect x="399.51" y="427.51" width="0.8" height="0.8" fill="#1a5aa0"/><rect x="397.02" y="459" width="0.8" height="0.8" fill="#0a2050"/><rect x="407.68" y="408.7" width="0.8" height="0.8" fill="#06183c"/><rect x="399.79" y="464.27" width="0.8" height="0.8" fill="#2a70b0"/><rect x="413.07" y="407.8" width="0.8" height="0.8" fill="#1a5aa0"/><rect x="386.63" y="438.12" width="0.8" height="0.8" fill="#1a5aa0"/><rect x="397.7" y="415.21" width="0.8" height="0.8" fill="#0a2050"/><rect x="414.36" y="461.5" width="0.8" height="0.8" fill="#1a5aa0"/><rect x="395.57" y="433.34" width="0.8" height="0.8" fill="#06183c"/><rect x="400.07" y="442.44" width="0.8" height="0.8" fill="#1a5aa0"/><rect x="396.94" y="424.68" width="0.8" height="0.8" fill="#06183c"/><rect x="399.57" y="414.05" width="0.8" height="0.8" fill="#2a70b0"/><rect x="394.87" y="439.43" width="0.8" height="0.8" fill="#2a70b0"/><rect x="411.78" y="426.98" width="0.8" height="0.8" fill="#1a5aa0"/><rect x="410.66" y="454.83" width="0.8" height="0.8" fill="#2a70b0"/><rect x="403.43" y="434.13" width="0.8" height="0.8" fill="#0a2050"/><rect x="403.93" y="431.84" width="0.8" height="0.8" fill="#06183c"/><rect x="394.6" y="437.75" width="0.8" height="0.8" fill="#2a70b0"/><rect x="394.15" y="410.78" width="0.8" height="0.8" fill="#1a5aa0"/><rect x="394.75" y="441.71" width="0.8" height="0.8" fill="#0a2050"/><rect x="394.32" y="430.56" width="0.8" height="0.8" fill="#06183c"/><rect x="396.46" y="440.12" width="0.8" height="0.8" fill="#06183c"/><rect x="409.66" y="412.01" width="0.8" height="0.8" fill="#0a2050"/><rect x="395.37" y="439.34" width="0.8" height="0.8" fill="#06183c"/><rect x="399.93" y="412.19" width="0.8" height="0.8" fill="#2a70b0"/><rect x="403.48" y="437.97" width="0.8" height="0.8" fill="#06183c"/><rect x="399.77" y="408.8" width="0.8" height="0.8" fill="#2a70b0"/><rect x="408.92" y="444.34" width="0.8" height="0.8" fill="#2a70b0"/><rect x="412.23" y="421.17" width="0.8" height="0.8" fill="#06183c"/><rect x="401.13" y="443.45" width="0.8" height="0.8" fill="#0a2050"/><rect x="391.93" y="411.45" width="0.8" height="0.8" fill="#2a70b0"/><rect x="398.09" y="421.04" width="0.8" height="0.8" fill="#0a2050"/><rect x="393.52" y="463.99" width="0.8" height="0.8" fill="#06183c"/><rect x="397.26" y="409.32" width="0.8" height="0.8" fill="#06183c"/><rect x="409.37" y="442.15" width="0.8" height="0.8" fill="#1a5aa0"/><rect x="396.41" y="421.1" width="0.8" height="0.8" fill="#1a5aa0"/><rect x="389.06" y="443.53" width="0.8" height="0.8" fill="#06183c"/><rect x="403.49" y="412.39" width="0.8" height="0.8" fill="#2a70b0"/><rect x="398.78" y="464.68" width="0.8" height="0.8" fill="#0a2050"/><rect x="393.74" y="407.38" width="0.8" height="0.8" fill="#0a2050"/><rect x="415.44" y="448.48" width="0.8" height="0.8" fill="#1a5aa0"/><rect x="387.79" y="422.19" width="0.8" height="0.8" fill="#06183c"/><rect x="400.56" y="461.8" width="0.8" height="0.8" fill="#1a5aa0"/><rect x="411.59" y="424.54" width="0.8" height="0.8" fill="#1a5aa0"/><rect x="407" y="440.26" width="0.8" height="0.8" fill="#2a70b0"/><rect x="402.84" y="424.56" width="0.8" height="0.8" fill="#06183c"/><rect x="391.65" y="461.92" width="0.8" height="0.8" fill="#2a70b0"/><rect x="414.6" y="434.56" width="0.8" height="0.8" fill="#0a2050"/><rect x="391.34" y="464.54" width="0.8" height="0.8" fill="#2a70b0"/><rect x="388.04" y="422.06" width="0.8" height="0.8" fill="#1a5aa0"/><rect x="410.83" y="439.04" width="0.8" height="0.8" fill="#06183c"/><rect x="387.93" y="410.43" width="0.8" height="0.8" fill="#1a5aa0"/><rect x="413.82" y="456.99" width="0.8" height="0.8" fill="#2a70b0"/><rect x="403.58" y="418.88" width="0.8" height="0.8" fill="#1a5aa0"/><rect x="397.73" y="416.99" width="0.8" height="0.8" fill="#06183c"/><rect x="391.24" y="444.5" width="0.8" height="0.8" fill="#0a2050"/><rect x="413.09" y="431.73" width="0.8" height="0.8" fill="#06183c"/><rect x="407.31" y="443.26" width="0.8" height="0.8" fill="#1a5aa0"/><rect x="390.9" y="430.04" width="0.8" height="0.8" fill="#1a5aa0"/><rect x="413.67" y="462.4" width="0.8" height="0.8" fill="#0a2050"/><rect x="409.1" y="433.6" width="0.8" height="0.8" fill="#06183c"/><rect x="410.98" y="455.61" width="0.8" height="0.8" fill="#06183c"/><rect x="414.79" y="415.49" width="0.8" height="0.8" fill="#0a2050"/><rect x="390.48" y="412.62" width="0.8" height="0.8" fill="#1a5aa0"/><rect x="391.58" y="450.56" width="0.8" height="0.8" fill="#0a2050"/><rect x="399.16" y="410.56" width="0.8" height="0.8" fill="#06183c"/><rect x="398.37" y="442.14" width="0.8" height="0.8" fill="#2a70b0"/><rect x="403.03" y="414.75" width="0.8" height="0.8" fill="#0a2050"/><rect x="393.94" y="440.81" width="0.8" height="0.8" fill="#06183c"/><rect x="412.76" y="409.55" width="0.8" height="0.8" fill="#1a5aa0"/><rect x="404.79" y="460.15" width="0.8" height="0.8" fill="#0a2050"/><rect x="402.71" y="430.11" width="0.8" height="0.8" fill="#1a5aa0"/><rect x="393.85" y="443.45" width="0.8" height="0.8" fill="#2a70b0"/><rect x="398.96" y="413.75" width="0.8" height="0.8" fill="#0a2050"/><rect x="413.4" y="440.48" width="0.8" height="0.8" fill="#2a70b0"/><rect x="398.48" y="410.92" width="0.8" height="0.8" fill="#2a70b0"/><rect x="390.53" y="455.93" width="0.8" height="0.8" fill="#06183c"/><rect x="409.95" y="416.02" width="0.8" height="0.8" fill="#0a2050"/><rect x="399.28" y="460.2" width="0.8" height="0.8" fill="#2a70b0"/><rect x="391.74" y="418.7" width="0.8" height="0.8" fill="#06183c"/><rect x="392.7" y="453.98" width="0.8" height="0.8" fill="#0a2050"/><rect x="411.01" y="421.17" width="0.8" height="0.8" fill="#0a2050"/><rect x="407.15" y="443.31" width="0.8" height="0.8" fill="#1a5aa0"/><rect x="410.59" y="431.65" width="0.8" height="0.8" fill="#06183c"/><rect x="408.61" y="442.7" width="0.8" height="0.8" fill="#0a2050"/><rect x="404.24" y="426.47" width="0.8" height="0.8" fill="#0a2050"/><rect x="403.38" y="443.47" width="0.8" height="0.8" fill="#1a5aa0"/><rect x="406.58" y="421.11" width="0.8" height="0.8" fill="#1a5aa0"/><rect x="394.56" y="424.52" width="0.8" height="0.8" fill="#06183c"/><rect x="388.95" y="449.37" width="0.8" height="0.8" fill="#06183c"/><rect x="390.21" y="425.27" width="0.8" height="0.8" fill="#0a2050"/><rect x="391.75" y="461.4" width="0.8" height="0.8" fill="#2a70b0"/><rect x="387.37" y="426.31" width="0.8" height="0.8" fill="#1a5aa0"/><rect x="396.74" y="464.27" width="0.8" height="0.8" fill="#1a5aa0"/><rect x="389.84" y="426.67" width="0.8" height="0.8" fill="#2a70b0"/><rect x="409.13" y="462.44" width="0.8" height="0.8" fill="#1a5aa0"/><rect x="394.84" y="409.37" width="0.8" height="0.8" fill="#06183c"/><rect x="399.38" y="438.43" width="0.8" height="0.8" fill="#0a2050"/><rect x="386.91" y="433.87" width="0.8" height="0.8" fill="#0a2050"/><rect x="404.44" y="442.48" width="0.8" height="0.8" fill="#2a70b0"/><rect x="393.64" y="429.59" width="0.8" height="0.8" fill="#1a5aa0"/><rect x="386.87" y="464.1" width="0.8" height="0.8" fill="#0a2050"/><rect x="393.96" y="430.16" width="0.8" height="0.8" fill="#06183c"/><rect x="389.31" y="431.08" width="0.8" height="0.8" fill="#0a2050"/><rect x="387.62" y="441.21" width="0.8" height="0.8" fill="#06183c"/><rect x="403.47" y="428" width="0.8" height="0.8" fill="#1a5aa0"/><rect x="389.88" y="449.26" width="0.8" height="0.8" fill="#0a2050"/><rect x="402.17" y="412.78" width="0.8" height="0.8" fill="#0a2050"/><rect x="390.61" y="454.03" width="0.8" height="0.8" fill="#06183c"/><rect x="391.11" y="429.84" width="0.8" height="0.8" fill="#06183c"/><rect x="403.96" y="407.33" width="0.8" height="0.8" fill="#1a5aa0"/><rect x="409.06" y="447.35" width="0.8" height="0.8" fill="#0a2050"/><rect x="410.87" y="426.69" width="0.8" height="0.8" fill="#2a70b0"/><rect x="410.18" y="461.86" width="0.8" height="0.8" fill="#1a5aa0"/><rect x="395.82" y="410.48" width="0.8" height="0.8" fill="#2a70b0"/><rect x="393.6" y="449.73" width="0.8" height="0.8" fill="#1a5aa0"/><rect x="396.98" y="421.43" width="0.8" height="0.8" fill="#1a5aa0"/><rect x="395.8" y="443.42" width="0.8" height="0.8" fill="#1a5aa0"/><rect x="392.91" y="418.29" width="0.8" height="0.8" fill="#06183c"/><rect x="409.05" y="464.4" width="0.8" height="0.8" fill="#1a5aa0"/><rect x="410.01" y="431.5" width="0.8" height="0.8" fill="#1a5aa0"/><rect x="387.31" y="455.98" width="0.8" height="0.8" fill="#2a70b0"/><rect x="413.2" y="424.07" width="0.8" height="0.8" fill="#1a5aa0"/><rect x="404.5" y="444.84" width="0.8" height="0.8" fill="#1a5aa0"/><rect x="399.01" y="433.4" width="0.8" height="0.8" fill="#2a70b0"/><rect x="389.61" y="447.61" width="0.8" height="0.8" fill="#0a2050"/><rect x="389.83" y="423.24" width="0.8" height="0.8" fill="#2a70b0"/><rect x="388.78" y="454.52" width="0.8" height="0.8" fill="#0a2050"/><rect x="399.19" y="420.88" width="0.8" height="0.8" fill="#2a70b0"/><rect x="413.13" y="454.15" width="0.8" height="0.8" fill="#2a70b0"/><rect x="393.43" y="408.8" width="0.8" height="0.8" fill="#2a70b0"/><rect x="410.9" y="455.08" width="0.8" height="0.8" fill="#0a2050"/><rect x="405.36" y="412.03" width="0.8" height="0.8" fill="#2a70b0"/><rect x="404.26" y="419.67" width="0.8" height="0.8" fill="#2a70b0"/><rect x="387.21" y="447.21" width="0.8" height="0.8" fill="#0a2050"/><rect x="401.31" y="417.22" width="0.8" height="0.8" fill="#06183c"/><rect x="386.65" y="447.75" width="0.8" height="0.8" fill="#0a2050"/><rect x="395.79" y="415.58" width="0.8" height="0.8" fill="#2a70b0"/><rect x="394.65" y="465.84" width="0.8" height="0.8" fill="#2a70b0"/><rect x="387.97" y="406.92" width="0.8" height="0.8" fill="#1a5aa0"/><rect x="405.57" y="421.03" width="0.8" height="0.8" fill="#06183c"/><rect x="396.68" y="459.44" width="0.8" height="0.8" fill="#0a2050"/><rect x="415.29" y="425.61" width="0.8" height="0.8" fill="#0a2050"/><rect x="390.41" y="412.07" width="0.8" height="0.8" fill="#2a70b0"/><rect x="410.36" y="452.46" width="0.8" height="0.8" fill="#06183c"/><rect x="394.17" y="424.27" width="0.8" height="0.8" fill="#0a2050"/><rect x="398.4" y="440.65" width="0.8" height="0.8" fill="#06183c"/><rect x="408.73" y="423" width="0.8" height="0.8" fill="#06183c"/><rect x="397.95" y="466" width="0.8" height="0.8" fill="#0a2050"/><rect x="398.54" y="428.64" width="0.8" height="0.8" fill="#1a5aa0"/><rect x="399.72" y="426.91" width="0.8" height="0.8" fill="#2a70b0"/><rect x="403.75" y="424.77" width="0.8" height="0.8" fill="#1a5aa0"/><rect x="409.36" y="461.91" width="0.8" height="0.8" fill="#06183c"/><rect x="397.45" y="414.85" width="0.8" height="0.8" fill="#2a70b0"/><rect x="409.83" y="450.12" width="0.8" height="0.8" fill="#06183c"/><rect x="403.34" y="408.81" width="0.8" height="0.8" fill="#2a70b0"/><rect x="395.79" y="461.74" width="0.8" height="0.8" fill="#0a2050"/><rect x="414.39" y="412.12" width="0.8" height="0.8" fill="#06183c"/><rect x="412.41" y="464.94" width="0.8" height="0.8" fill="#1a5aa0"/><rect x="387.69" y="422.4" width="0.8" height="0.8" fill="#06183c"/><rect x="395.45" y="423.97" width="0.8" height="0.8" fill="#06183c"/><rect x="406.38" y="417.4" width="0.8" height="0.8" fill="#2a70b0"/><rect x="387.49" y="456.97" width="0.8" height="0.8" fill="#06183c"/><rect x="414.07" y="425.58" width="0.8" height="0.8" fill="#0a2050"/><rect x="389.2" y="448.37" width="0.8" height="0.8" fill="#06183c"/><rect x="405.3" y="432.76" width="0.8" height="0.8" fill="#0a2050"/><rect x="412.08" y="465.19" width="0.8" height="0.8" fill="#06183c"/><rect x="398.07" y="428.17" width="0.8" height="0.8" fill="#2a70b0"/><rect x="406.56" y="458.97" width="0.8" height="0.8" fill="#1a5aa0"/><rect x="391.3" y="415.37" width="0.8" height="0.8" fill="#1a5aa0"/><rect x="410.5" y="452.31" width="0.8" height="0.8" fill="#1a5aa0"/><rect x="405.52" y="414.71" width="0.8" height="0.8" fill="#2a70b0"/><rect x="410.34" y="465.92" width="0.8" height="0.8" fill="#06183c"/><rect x="404.79" y="421.24" width="0.8" height="0.8" fill="#0a2050"/><rect x="401.09" y="443.06" width="0.8" height="0.8" fill="#0a2050"/><rect x="388.06" y="422.4" width="0.8" height="0.8" fill="#1a5aa0"/><rect x="396.65" y="466.02" width="0.8" height="0.8" fill="#1a5aa0"/><rect x="406.57" y="406.61" width="0.8" height="0.8" fill="#1a5aa0"/><rect x="395.29" y="457.38" width="0.8" height="0.8" fill="#1a5aa0"/><rect x="413.17" y="417.63" width="0.8" height="0.8" fill="#1a5aa0"/><rect x="392.06" y="420.49" width="0.8" height="0.8" fill="#2a70b0"/><rect x="411.82" y="463.22" width="0.8" height="0.8" fill="#0a2050"/><rect x="403.13" y="418.02" width="0.8" height="0.8" fill="#1a5aa0"/><rect x="390.56" y="452.48" width="0.8" height="0.8" fill="#1a5aa0"/><rect x="387.15" y="408.47" width="0.8" height="0.8" fill="#06183c"/><rect x="410.42" y="455.17" width="0.8" height="0.8" fill="#1a5aa0"/><rect x="405.35" y="425.81" width="0.8" height="0.8" fill="#2a70b0"/><rect x="390.52" y="444.49" width="0.8" height="0.8" fill="#2a70b0"/><rect x="391.26" y="413.9" width="0.8" height="0.8" fill="#1a5aa0"/><rect x="411.48" y="464.71" width="0.8" height="0.8" fill="#1a5aa0"/><rect x="396.52" y="419.12" width="0.8" height="0.8" fill="#06183c"/><rect x="386.87" y="443.97" width="0.8" height="0.8" fill="#06183c"/><rect x="403.37" y="433.65" width="0.8" height="0.8" fill="#06183c"/><rect x="387.9" y="444.49" width="0.8" height="0.8" fill="#0a2050"/><rect x="387.59" y="432.83" width="0.8" height="0.8" fill="#0a2050"/><rect x="395.52" y="463.32" width="0.8" height="0.8" fill="#06183c"/><rect x="395.2" y="423.47" width="0.8" height="0.8" fill="#06183c"/><rect x="415" y="439.62" width="0.8" height="0.8" fill="#06183c"/><rect x="406.07" y="422.97" width="0.8" height="0.8" fill="#06183c"/><rect x="395.36" y="462.65" width="0.8" height="0.8" fill="#06183c"/><rect x="386.96" y="431.04" width="0.8" height="0.8" fill="#1a5aa0"/><rect x="391.38" y="447.91" width="0.8" height="0.8" fill="#0a2050"/><rect x="386.52" y="431.45" width="0.8" height="0.8" fill="#06183c"/><rect x="402.75" y="440.97" width="0.8" height="0.8" fill="#06183c"/><rect x="396.14" y="424.86" width="0.8" height="0.8" fill="#1a5aa0"/><rect x="398.67" y="463.72" width="0.8" height="0.8" fill="#0a2050"/><rect x="397.65" y="419.61" width="0.8" height="0.8" fill="#2a70b0"/><rect x="393.25" y="438.7" width="0.8" height="0.8" fill="#1a5aa0"/>
</svg></body></html>
